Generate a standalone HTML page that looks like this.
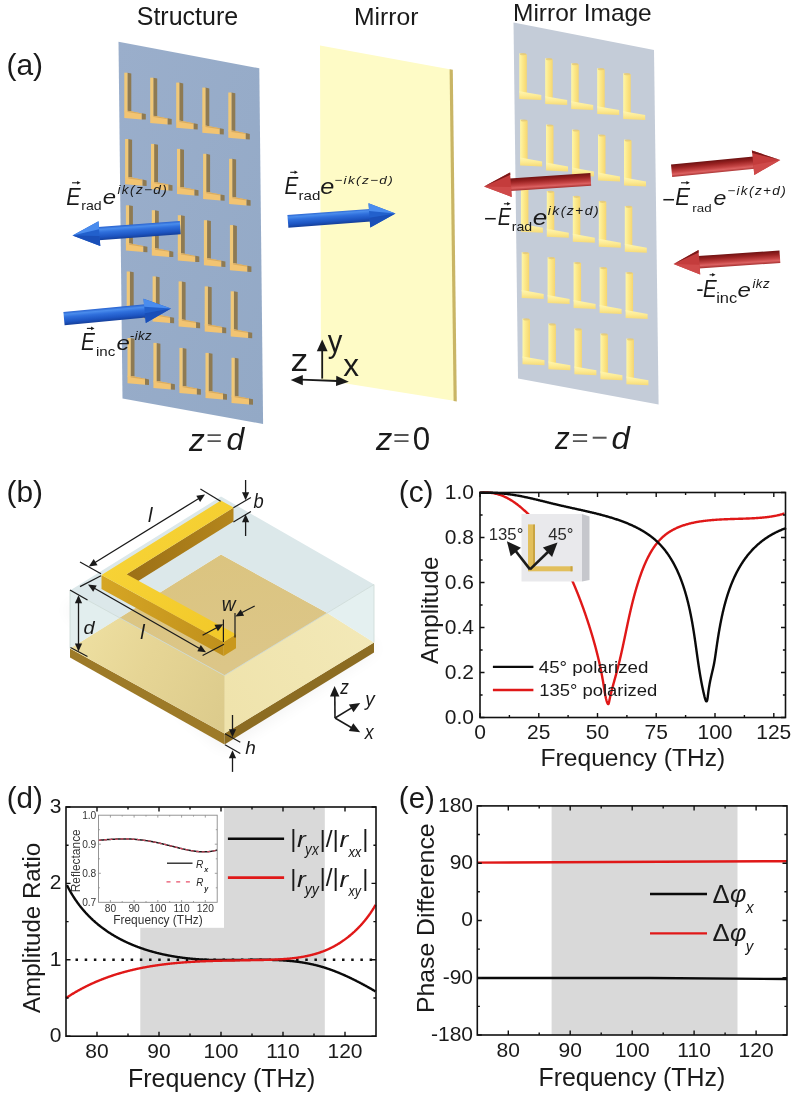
<!DOCTYPE html>
<html><head><meta charset="utf-8"><style>
html,body{margin:0;padding:0;background:#fff;overflow:hidden;}
svg{display:block;}
.t{font-family:'Liberation Sans', sans-serif;fill:#1a1a1a;}
.i{font-family:'Liberation Sans', sans-serif;font-style:italic;fill:#1a1a1a;}
</style></head><body>
<svg width="800" height="1096" viewBox="0 0 800 1096">
<rect width="800" height="1096" fill="#ffffff"/>
<defs>
<linearGradient id="gBlue" x1="0" y1="0" x2="1" y2="1">
<stop offset="0" stop-color="#9aaecb"/><stop offset="1" stop-color="#93a9c6"/></linearGradient>
<linearGradient id="gMirL" x1="0" y1="0" x2="1" y2="0">
<stop offset="0" stop-color="#fef6a8"/><stop offset="0.45" stop-color="#fce889"/><stop offset="1" stop-color="#f6d670"/></linearGradient>
<linearGradient id="gMirF" x1="0" y1="0" x2="0" y2="1">
<stop offset="0" stop-color="#fff6b0"/><stop offset="0.5" stop-color="#fdeb94"/><stop offset="1" stop-color="#f6da78"/></linearGradient>
<linearGradient id="gBlueArrow" x1="0" y1="0" x2="0" y2="1">
<stop offset="0" stop-color="#4f8fe8"/><stop offset="0.35" stop-color="#2266d0"/><stop offset="1" stop-color="#1445a8"/></linearGradient>
<linearGradient id="gRedArrow" x1="0" y1="0" x2="0" y2="1">
<stop offset="0" stop-color="#d86060"/><stop offset="0.35" stop-color="#c03838"/><stop offset="1" stop-color="#8a1c1c"/></linearGradient>
<linearGradient id="gBlueArrowH" x1="0" y1="0" x2="0" y2="1">
<stop offset="0" stop-color="#3c7fe0"/><stop offset="0.5" stop-color="#2262cc"/><stop offset="1" stop-color="#1848a8"/></linearGradient>
<linearGradient id="gRedArrowH" x1="0" y1="0" x2="0" y2="1">
<stop offset="0" stop-color="#d85050"/><stop offset="0.5" stop-color="#c23a3a"/><stop offset="1" stop-color="#962222"/></linearGradient>
<linearGradient id="gPlateFront" x1="0" y1="0" x2="0.4" y2="1">
<stop offset="0" stop-color="#ecdd9c"/><stop offset="0.6" stop-color="#f1e4ac"/><stop offset="1" stop-color="#f4e9b8"/></linearGradient>
<linearGradient id="gPlateTop" x1="0" y1="0" x2="0.3" y2="1">
<stop offset="0" stop-color="#dbc47f"/><stop offset="1" stop-color="#dcc688"/></linearGradient>
<linearGradient id="gPlateFL" gradientUnits="userSpaceOnUse" x1="70" y1="640" x2="224" y2="720">
<stop offset="0" stop-color="#eee0a2"/><stop offset="0.45" stop-color="#e6d595"/><stop offset="1" stop-color="#dccb8c"/></linearGradient>
<linearGradient id="gPlateFR" gradientUnits="userSpaceOnUse" x1="224" y1="700" x2="374" y2="620">
<stop offset="0" stop-color="#efe3ac"/><stop offset="1" stop-color="#f3e9b8"/></linearGradient>
<linearGradient id="gBarTop" x1="0" y1="0" x2="1" y2="1">
<stop offset="0" stop-color="#f8d63a"/><stop offset="1" stop-color="#f2c828"/></linearGradient>
<linearGradient id="gBarFront" x1="0" y1="0" x2="1" y2="0">
<stop offset="0" stop-color="#d6a624"/><stop offset="1" stop-color="#c0901c"/></linearGradient>
<linearGradient id="gBarInner" x1="0" y1="0" x2="1" y2="0">
<stop offset="0" stop-color="#9c7016"/><stop offset="1" stop-color="#b4861c"/></linearGradient>
<filter id="fBlur" x="-20%" y="-20%" width="140%" height="140%"><feGaussianBlur stdDeviation="8"/></filter>
<linearGradient id="ag0" gradientUnits="userSpaceOnUse" x1="179.8" y1="221.0" x2="180.8" y2="234.2"><stop offset="0" stop-color="#2a64d0"/><stop offset="0.18" stop-color="#4a8cec"/><stop offset="0.4" stop-color="#2f6fdc"/><stop offset="0.75" stop-color="#1d55c2"/><stop offset="1" stop-color="#153f9a"/></linearGradient><linearGradient id="ag1" gradientUnits="userSpaceOnUse" x1="63.4" y1="312.0" x2="64.6" y2="325.2"><stop offset="0" stop-color="#2a64d0"/><stop offset="0.18" stop-color="#4a8cec"/><stop offset="0.4" stop-color="#2f6fdc"/><stop offset="0.75" stop-color="#1d55c2"/><stop offset="1" stop-color="#153f9a"/></linearGradient><linearGradient id="ag2" gradientUnits="userSpaceOnUse" x1="287.4" y1="214.9" x2="288.4" y2="227.7"><stop offset="0" stop-color="#2a64d0"/><stop offset="0.18" stop-color="#4a8cec"/><stop offset="0.4" stop-color="#2f6fdc"/><stop offset="0.75" stop-color="#1d55c2"/><stop offset="1" stop-color="#153f9a"/></linearGradient><linearGradient id="ag3" gradientUnits="userSpaceOnUse" x1="590.4" y1="173.1" x2="591.2" y2="185.7"><stop offset="0" stop-color="#6e1212"/><stop offset="0.3" stop-color="#9a2222"/><stop offset="0.62" stop-color="#c44444"/><stop offset="0.8" stop-color="#dc6262"/><stop offset="1" stop-color="#a83232"/></linearGradient><linearGradient id="ag4" gradientUnits="userSpaceOnUse" x1="671.0" y1="164.6" x2="672.2" y2="177.0"><stop offset="0" stop-color="#6e1212"/><stop offset="0.3" stop-color="#9a2222"/><stop offset="0.62" stop-color="#c44444"/><stop offset="0.8" stop-color="#dc6262"/><stop offset="1" stop-color="#a83232"/></linearGradient><linearGradient id="ag5" gradientUnits="userSpaceOnUse" x1="779.5" y1="250.5" x2="780.3" y2="262.9"><stop offset="0" stop-color="#6e1212"/><stop offset="0.3" stop-color="#9a2222"/><stop offset="0.62" stop-color="#c44444"/><stop offset="0.8" stop-color="#dc6262"/><stop offset="1" stop-color="#a83232"/></linearGradient></defs><text transform="translate(136.76 25.04) scale(0.944 1)" font-size="26.48" class="t">Structure</text>
<text transform="translate(354.02 24.56) scale(1.039 1)" font-size="23.78" class="t">Mirror</text>
<text x="513.04" y="20.86" font-size="24.47" class="t">Mirror Image</text>
<text x="6.48" y="74.61" font-size="29.95" class="t">(a)</text>
<polygon points="118.5,41.7 259.3,68.3 263.1,424.0 122.5,398.6" fill="url(#gBlue)" />
<polygon points="127.3,72.7 131.3,73.5 131.3,111.7 127.3,110.7" fill="#8e7a52" /><polygon points="124.3,72.7 127.5,72.7 127.5,111.7 124.3,111.7" fill="#f0c878" /><polygon points="124.3,110.4 131.3,111.3 141.8,113.4 141.8,119.4 124.3,117.9" fill="#f2c472" /><polygon points="127.5,110.7 131.3,111.3 141.8,113.4 141.8,114.3 127.5,112.1" fill="#d8ac62" /><polygon points="141.8,113.3 145.8,114.1 145.8,119.6 141.8,119.4" fill="#8e7a52" />
<polygon points="153.2,77.7 157.2,78.5 157.2,116.7 153.2,115.7" fill="#8e7a52" /><polygon points="150.2,77.7 153.4,77.7 153.4,116.7 150.2,116.7" fill="#f0c878" /><polygon points="150.2,115.4 157.2,116.2 167.7,118.4 167.7,124.4 150.2,122.9" fill="#f2c472" /><polygon points="153.4,115.7 157.2,116.2 167.7,118.4 167.7,119.2 153.4,117.1" fill="#d8ac62" /><polygon points="167.7,118.2 171.7,119.1 171.7,124.6 167.7,124.4" fill="#8e7a52" />
<polygon points="179.2,82.6 183.2,83.4 183.2,121.6 179.2,120.6" fill="#8e7a52" /><polygon points="176.2,82.6 179.4,82.6 179.4,121.6 176.2,121.6" fill="#f0c878" /><polygon points="176.2,120.3 183.2,121.2 193.7,123.3 193.7,129.3 176.2,127.8" fill="#f2c472" /><polygon points="179.4,120.6 183.2,121.2 193.7,123.3 193.7,124.2 179.4,122.0" fill="#d8ac62" /><polygon points="193.7,123.2 197.7,124.0 197.7,129.5 193.7,129.3" fill="#8e7a52" />
<polygon points="205.3,87.6 209.3,88.4 209.3,126.6 205.3,125.6" fill="#8e7a52" /><polygon points="202.3,87.6 205.5,87.6 205.5,126.6 202.3,126.6" fill="#f0c878" /><polygon points="202.3,125.3 209.3,126.2 219.8,128.2 219.8,134.2 202.3,132.8" fill="#f2c472" /><polygon points="205.5,125.6 209.3,126.2 219.8,128.2 219.8,129.2 205.5,127.0" fill="#d8ac62" /><polygon points="219.8,128.2 223.8,129.0 223.8,134.5 219.8,134.2" fill="#8e7a52" />
<polygon points="231.3,92.5 235.3,93.3 235.3,131.5 231.3,130.5" fill="#8e7a52" /><polygon points="228.3,92.5 231.5,92.5 231.5,131.5 228.3,131.5" fill="#f0c878" /><polygon points="228.3,130.2 235.3,131.1 245.8,133.2 245.8,139.2 228.3,137.7" fill="#f2c472" /><polygon points="231.5,130.5 235.3,131.1 245.8,133.2 245.8,134.1 231.5,131.9" fill="#d8ac62" /><polygon points="245.8,133.1 249.8,133.9 249.8,139.4 245.8,139.2" fill="#8e7a52" />
<polygon points="128.1,139.0 132.1,139.8 132.1,178.0 128.1,177.0" fill="#8e7a52" /><polygon points="125.1,139.0 128.3,139.0 128.3,178.0 125.1,178.0" fill="#f0c878" /><polygon points="125.1,176.7 132.1,177.6 142.6,179.7 142.6,185.7 125.1,184.2" fill="#f2c472" /><polygon points="128.3,177.0 132.1,177.6 142.6,179.7 142.6,180.6 128.3,178.4" fill="#d8ac62" /><polygon points="142.6,179.6 146.6,180.4 146.6,185.9 142.6,185.7" fill="#8e7a52" />
<polygon points="154.0,143.9 158.0,144.8 158.0,182.9 154.0,181.9" fill="#8e7a52" /><polygon points="151.0,143.9 154.2,143.9 154.2,182.9 151.0,182.9" fill="#f0c878" /><polygon points="151.0,181.6 158.0,182.5 168.5,184.6 168.5,190.6 151.0,189.1" fill="#f2c472" /><polygon points="154.2,181.9 158.0,182.5 168.5,184.6 168.5,185.5 154.2,183.3" fill="#d8ac62" /><polygon points="168.5,184.5 172.5,185.3 172.5,190.8 168.5,190.6" fill="#8e7a52" />
<polygon points="180.0,148.9 184.0,149.7 184.0,187.9 180.0,186.9" fill="#8e7a52" /><polygon points="177.0,148.9 180.2,148.9 180.2,187.9 177.0,187.9" fill="#f0c878" /><polygon points="177.0,186.6 184.0,187.5 194.5,189.6 194.5,195.6 177.0,194.1" fill="#f2c472" /><polygon points="180.2,186.9 184.0,187.5 194.5,189.6 194.5,190.5 180.2,188.3" fill="#d8ac62" /><polygon points="194.5,189.5 198.5,190.3 198.5,195.8 194.5,195.6" fill="#8e7a52" />
<polygon points="206.1,153.8 210.1,154.7 210.1,192.8 206.1,191.8" fill="#8e7a52" /><polygon points="203.1,153.8 206.3,153.8 206.3,192.8 203.1,192.8" fill="#f0c878" /><polygon points="203.1,191.5 210.1,192.4 220.6,194.5 220.6,200.5 203.1,199.0" fill="#f2c472" /><polygon points="206.3,191.8 210.1,192.4 220.6,194.5 220.6,195.4 206.3,193.2" fill="#d8ac62" /><polygon points="220.6,194.4 224.6,195.2 224.6,200.8 220.6,200.5" fill="#8e7a52" />
<polygon points="232.1,158.8 236.1,159.6 236.1,197.8 232.1,196.8" fill="#8e7a52" /><polygon points="229.1,158.8 232.3,158.8 232.3,197.8 229.1,197.8" fill="#f0c878" /><polygon points="229.1,196.5 236.1,197.4 246.6,199.5 246.6,205.5 229.1,204.0" fill="#f2c472" /><polygon points="232.3,196.8 236.1,197.4 246.6,199.5 246.6,200.4 232.3,198.2" fill="#d8ac62" /><polygon points="246.6,199.4 250.6,200.2 250.6,205.7 246.6,205.5" fill="#8e7a52" />
<polygon points="128.9,205.3 132.9,206.1 132.9,244.3 128.9,243.3" fill="#8e7a52" /><polygon points="125.9,205.3 129.1,205.3 129.1,244.3 125.9,244.3" fill="#f0c878" /><polygon points="125.9,243.0 132.9,243.9 143.4,246.0 143.4,252.0 125.9,250.5" fill="#f2c472" /><polygon points="129.1,243.3 132.9,243.9 143.4,246.0 143.4,246.9 129.1,244.7" fill="#d8ac62" /><polygon points="143.4,245.9 147.4,246.7 147.4,252.2 143.4,252.0" fill="#8e7a52" />
<polygon points="154.8,210.2 158.8,211.1 158.8,249.2 154.8,248.2" fill="#8e7a52" /><polygon points="151.8,210.2 155.0,210.2 155.0,249.2 151.8,249.2" fill="#f0c878" /><polygon points="151.8,247.9 158.8,248.8 169.3,250.9 169.3,256.9 151.8,255.4" fill="#f2c472" /><polygon points="155.0,248.2 158.8,248.8 169.3,250.9 169.3,251.8 155.0,249.7" fill="#d8ac62" /><polygon points="169.3,250.8 173.3,251.7 173.3,257.1 169.3,256.9" fill="#8e7a52" />
<polygon points="180.8,215.2 184.8,216.0 184.8,254.2 180.8,253.2" fill="#8e7a52" /><polygon points="177.8,215.2 181.0,215.2 181.0,254.2 177.8,254.2" fill="#f0c878" /><polygon points="177.8,252.9 184.8,253.8 195.3,255.9 195.3,261.9 177.8,260.4" fill="#f2c472" /><polygon points="181.0,253.2 184.8,253.8 195.3,255.9 195.3,256.8 181.0,254.6" fill="#d8ac62" /><polygon points="195.3,255.8 199.3,256.6 199.3,262.1 195.3,261.9" fill="#8e7a52" />
<polygon points="206.9,220.2 210.9,221.0 210.9,259.1 206.9,258.1" fill="#8e7a52" /><polygon points="203.9,220.2 207.1,220.2 207.1,259.1 203.9,259.1" fill="#f0c878" /><polygon points="203.9,257.8 210.9,258.8 221.4,260.8 221.4,266.8 203.9,265.3" fill="#f2c472" /><polygon points="207.1,258.1 210.9,258.8 221.4,260.8 221.4,261.8 207.1,259.5" fill="#d8ac62" /><polygon points="221.4,260.8 225.4,261.5 225.4,267.0 221.4,266.8" fill="#8e7a52" />
<polygon points="232.9,225.1 236.9,225.9 236.9,264.1 232.9,263.1" fill="#8e7a52" /><polygon points="229.9,225.1 233.1,225.1 233.1,264.1 229.9,264.1" fill="#f0c878" /><polygon points="229.9,262.8 236.9,263.7 247.4,265.8 247.4,271.8 229.9,270.3" fill="#f2c472" /><polygon points="233.1,263.1 236.9,263.7 247.4,265.8 247.4,266.7 233.1,264.5" fill="#d8ac62" /><polygon points="247.4,265.7 251.4,266.5 251.4,272.0 247.4,271.8" fill="#8e7a52" />
<polygon points="129.7,271.5 133.7,272.3 133.7,310.5 129.7,309.5" fill="#8e7a52" /><polygon points="126.7,271.5 129.9,271.5 129.9,310.5 126.7,310.5" fill="#f0c878" /><polygon points="126.7,309.2 133.7,310.1 144.2,312.2 144.2,318.2 126.7,316.7" fill="#f2c472" /><polygon points="129.9,309.5 133.7,310.1 144.2,312.2 144.2,313.1 129.9,310.9" fill="#d8ac62" /><polygon points="144.2,312.1 148.2,312.9 148.2,318.4 144.2,318.2" fill="#8e7a52" />
<polygon points="155.6,276.4 159.6,277.2 159.6,315.4 155.6,314.4" fill="#8e7a52" /><polygon points="152.6,276.4 155.8,276.4 155.8,315.4 152.6,315.4" fill="#f0c878" /><polygon points="152.6,314.1 159.6,315.1 170.1,317.1 170.1,323.1 152.6,321.6" fill="#f2c472" /><polygon points="155.8,314.4 159.6,315.1 170.1,317.1 170.1,318.1 155.8,315.8" fill="#d8ac62" /><polygon points="170.1,317.1 174.1,317.8 174.1,323.3 170.1,323.1" fill="#8e7a52" />
<polygon points="181.6,281.4 185.6,282.2 185.6,320.4 181.6,319.4" fill="#8e7a52" /><polygon points="178.6,281.4 181.8,281.4 181.8,320.4 178.6,320.4" fill="#f0c878" /><polygon points="178.6,319.1 185.6,320.0 196.1,322.1 196.1,328.1 178.6,326.6" fill="#f2c472" /><polygon points="181.8,319.4 185.6,320.0 196.1,322.1 196.1,323.0 181.8,320.8" fill="#d8ac62" /><polygon points="196.1,322.0 200.1,322.8 200.1,328.3 196.1,328.1" fill="#8e7a52" />
<polygon points="207.7,286.4 211.7,287.2 211.7,325.4 207.7,324.4" fill="#8e7a52" /><polygon points="204.7,286.4 207.9,286.4 207.9,325.4 204.7,325.4" fill="#f0c878" /><polygon points="204.7,324.1 211.7,325.0 222.2,327.1 222.2,333.1 204.7,331.6" fill="#f2c472" /><polygon points="207.9,324.4 211.7,325.0 222.2,327.1 222.2,328.0 207.9,325.8" fill="#d8ac62" /><polygon points="222.2,327.0 226.2,327.8 226.2,333.2 222.2,333.1" fill="#8e7a52" />
<polygon points="233.7,291.3 237.7,292.1 237.7,330.3 233.7,329.3" fill="#8e7a52" /><polygon points="230.7,291.3 233.9,291.3 233.9,330.3 230.7,330.3" fill="#f0c878" /><polygon points="230.7,329.0 237.7,329.9 248.2,332.0 248.2,338.0 230.7,336.5" fill="#f2c472" /><polygon points="233.9,329.3 237.7,329.9 248.2,332.0 248.2,332.9 233.9,330.7" fill="#d8ac62" /><polygon points="248.2,331.9 252.2,332.7 252.2,338.2 248.2,338.0" fill="#8e7a52" />
<polygon points="130.5,338.0 134.5,338.8 134.5,377.0 130.5,376.0" fill="#8e7a52" /><polygon points="127.5,338.0 130.7,338.0 130.7,377.0 127.5,377.0" fill="#f0c878" /><polygon points="127.5,375.7 134.5,376.6 145.0,378.7 145.0,384.7 127.5,383.2" fill="#f2c472" /><polygon points="130.7,376.0 134.5,376.6 145.0,378.7 145.0,379.6 130.7,377.4" fill="#d8ac62" /><polygon points="145.0,378.6 149.0,379.4 149.0,384.9 145.0,384.7" fill="#8e7a52" />
<polygon points="156.4,342.9 160.4,343.8 160.4,381.9 156.4,380.9" fill="#8e7a52" /><polygon points="153.4,342.9 156.6,342.9 156.6,381.9 153.4,381.9" fill="#f0c878" /><polygon points="153.4,380.6 160.4,381.6 170.9,383.6 170.9,389.6 153.4,388.1" fill="#f2c472" /><polygon points="156.6,380.9 160.4,381.6 170.9,383.6 170.9,384.6 156.6,382.3" fill="#d8ac62" /><polygon points="170.9,383.6 174.9,384.3 174.9,389.8 170.9,389.6" fill="#8e7a52" />
<polygon points="182.4,347.9 186.4,348.7 186.4,386.9 182.4,385.9" fill="#8e7a52" /><polygon points="179.4,347.9 182.6,347.9 182.6,386.9 179.4,386.9" fill="#f0c878" /><polygon points="179.4,385.6 186.4,386.5 196.9,388.6 196.9,394.6 179.4,393.1" fill="#f2c472" /><polygon points="182.6,385.9 186.4,386.5 196.9,388.6 196.9,389.5 182.6,387.3" fill="#d8ac62" /><polygon points="196.9,388.5 200.9,389.3 200.9,394.8 196.9,394.6" fill="#8e7a52" />
<polygon points="208.5,352.9 212.5,353.7 212.5,391.9 208.5,390.9" fill="#8e7a52" /><polygon points="205.5,352.9 208.7,352.9 208.7,391.9 205.5,391.9" fill="#f0c878" /><polygon points="205.5,390.6 212.5,391.5 223.0,393.6 223.0,399.6 205.5,398.1" fill="#f2c472" /><polygon points="208.7,390.9 212.5,391.5 223.0,393.6 223.0,394.5 208.7,392.2" fill="#d8ac62" /><polygon points="223.0,393.5 227.0,394.2 227.0,399.8 223.0,399.6" fill="#8e7a52" />
<polygon points="234.5,357.8 238.5,358.6 238.5,396.8 234.5,395.8" fill="#8e7a52" /><polygon points="231.5,357.8 234.7,357.8 234.7,396.8 231.5,396.8" fill="#f0c878" /><polygon points="231.5,395.5 238.5,396.4 249.0,398.5 249.0,404.5 231.5,403.0" fill="#f2c472" /><polygon points="234.7,395.8 238.5,396.4 249.0,398.5 249.0,399.4 234.7,397.2" fill="#d8ac62" /><polygon points="249.0,398.4 253.0,399.2 253.0,404.7 249.0,404.5" fill="#8e7a52" />
<polygon points="320.0,45.5 451.0,69.5 455.5,401.0 321.0,379.5" fill="#fefbc6" />
<polygon points="449.6,69.2 452.8,69.8 456.8,401.4 453.6,401.0" fill="#c9b565" />
<polygon points="513.5,22.5 654.0,50.0 658.6,404.5 518.0,378.6" fill="#c4ccd8" />
<polygon points="519.3,53.3 526.8,54.2 526.8,93.0 519.3,92.5" fill="url(#gMirL)" /><polygon points="519.3,91.2 541.3,95.1 541.3,100.1 519.3,99.1" fill="url(#gMirF)" /><ellipse cx="523.2" cy="54.2" rx="3.2" ry="1.1" fill="#e3c878" opacity="0.8"/>
<polygon points="545.2,58.3 552.7,59.2 552.7,98.0 545.2,97.5" fill="url(#gMirL)" /><polygon points="545.2,96.2 567.2,100.1 567.2,105.1 545.2,104.1" fill="url(#gMirF)" /><ellipse cx="549.1" cy="59.2" rx="3.2" ry="1.1" fill="#e3c878" opacity="0.8"/>
<polygon points="571.2,63.3 578.7,64.2 578.7,103.0 571.2,102.5" fill="url(#gMirL)" /><polygon points="571.2,101.2 593.2,105.1 593.2,110.1 571.2,109.1" fill="url(#gMirF)" /><ellipse cx="575.1" cy="64.2" rx="3.2" ry="1.1" fill="#e3c878" opacity="0.8"/>
<polygon points="597.2,68.3 604.7,69.2 604.7,108.0 597.2,107.5" fill="url(#gMirL)" /><polygon points="597.2,106.2 619.2,110.1 619.2,115.1 597.2,114.1" fill="url(#gMirF)" /><ellipse cx="601.1" cy="69.2" rx="3.2" ry="1.1" fill="#e3c878" opacity="0.8"/>
<polygon points="623.2,73.3 630.7,74.2 630.7,113.0 623.2,112.5" fill="url(#gMirL)" /><polygon points="623.2,111.2 645.2,115.1 645.2,120.1 623.2,119.1" fill="url(#gMirF)" /><ellipse cx="627.1" cy="74.2" rx="3.2" ry="1.1" fill="#e3c878" opacity="0.8"/>
<polygon points="520.1,119.6 527.6,120.5 527.6,159.3 520.1,158.8" fill="url(#gMirL)" /><polygon points="520.1,157.5 542.1,161.4 542.1,166.4 520.1,165.4" fill="url(#gMirF)" /><ellipse cx="524.0" cy="120.5" rx="3.2" ry="1.1" fill="#e3c878" opacity="0.8"/>
<polygon points="546.0,124.6 553.5,125.5 553.5,164.3 546.0,163.8" fill="url(#gMirL)" /><polygon points="546.0,162.5 568.0,166.4 568.0,171.4 546.0,170.4" fill="url(#gMirF)" /><ellipse cx="549.9" cy="125.5" rx="3.2" ry="1.1" fill="#e3c878" opacity="0.8"/>
<polygon points="572.0,129.6 579.5,130.5 579.5,169.3 572.0,168.8" fill="url(#gMirL)" /><polygon points="572.0,167.5 594.0,171.4 594.0,176.4 572.0,175.4" fill="url(#gMirF)" /><ellipse cx="575.9" cy="130.5" rx="3.2" ry="1.1" fill="#e3c878" opacity="0.8"/>
<polygon points="598.0,134.6 605.5,135.5 605.5,174.3 598.0,173.8" fill="url(#gMirL)" /><polygon points="598.0,172.5 620.0,176.4 620.0,181.4 598.0,180.4" fill="url(#gMirF)" /><ellipse cx="601.9" cy="135.5" rx="3.2" ry="1.1" fill="#e3c878" opacity="0.8"/>
<polygon points="624.0,139.6 631.5,140.5 631.5,179.3 624.0,178.8" fill="url(#gMirL)" /><polygon points="624.0,177.5 646.0,181.4 646.0,186.4 624.0,185.4" fill="url(#gMirF)" /><ellipse cx="627.9" cy="140.5" rx="3.2" ry="1.1" fill="#e3c878" opacity="0.8"/>
<polygon points="520.9,185.9 528.4,186.8 528.4,225.6 520.9,225.1" fill="url(#gMirL)" /><polygon points="520.9,223.8 542.9,227.7 542.9,232.7 520.9,231.7" fill="url(#gMirF)" /><ellipse cx="524.8" cy="186.8" rx="3.2" ry="1.1" fill="#e3c878" opacity="0.8"/>
<polygon points="546.8,190.9 554.3,191.8 554.3,230.6 546.8,230.1" fill="url(#gMirL)" /><polygon points="546.8,228.8 568.8,232.7 568.8,237.7 546.8,236.7" fill="url(#gMirF)" /><ellipse cx="550.7" cy="191.8" rx="3.2" ry="1.1" fill="#e3c878" opacity="0.8"/>
<polygon points="572.8,195.9 580.3,196.8 580.3,235.6 572.8,235.1" fill="url(#gMirL)" /><polygon points="572.8,233.8 594.8,237.7 594.8,242.7 572.8,241.7" fill="url(#gMirF)" /><ellipse cx="576.7" cy="196.8" rx="3.2" ry="1.1" fill="#e3c878" opacity="0.8"/>
<polygon points="598.8,200.9 606.3,201.8 606.3,240.6 598.8,240.1" fill="url(#gMirL)" /><polygon points="598.8,238.8 620.8,242.7 620.8,247.7 598.8,246.7" fill="url(#gMirF)" /><ellipse cx="602.7" cy="201.8" rx="3.2" ry="1.1" fill="#e3c878" opacity="0.8"/>
<polygon points="624.8,205.9 632.3,206.8 632.3,245.6 624.8,245.1" fill="url(#gMirL)" /><polygon points="624.8,243.8 646.8,247.7 646.8,252.7 624.8,251.7" fill="url(#gMirF)" /><ellipse cx="628.7" cy="206.8" rx="3.2" ry="1.1" fill="#e3c878" opacity="0.8"/>
<polygon points="521.7,252.2 529.2,253.1 529.2,291.9 521.7,291.4" fill="url(#gMirL)" /><polygon points="521.7,290.1 543.7,294.0 543.7,299.0 521.7,298.0" fill="url(#gMirF)" /><ellipse cx="525.6" cy="253.1" rx="3.2" ry="1.1" fill="#e3c878" opacity="0.8"/>
<polygon points="547.6,257.2 555.1,258.1 555.1,296.9 547.6,296.4" fill="url(#gMirL)" /><polygon points="547.6,295.1 569.6,299.0 569.6,304.0 547.6,303.0" fill="url(#gMirF)" /><ellipse cx="551.5" cy="258.1" rx="3.2" ry="1.1" fill="#e3c878" opacity="0.8"/>
<polygon points="573.6,262.2 581.1,263.1 581.1,301.9 573.6,301.4" fill="url(#gMirL)" /><polygon points="573.6,300.1 595.6,304.0 595.6,309.0 573.6,308.0" fill="url(#gMirF)" /><ellipse cx="577.5" cy="263.1" rx="3.2" ry="1.1" fill="#e3c878" opacity="0.8"/>
<polygon points="599.6,267.2 607.1,268.1 607.1,306.9 599.6,306.4" fill="url(#gMirL)" /><polygon points="599.6,305.1 621.6,309.0 621.6,314.0 599.6,313.0" fill="url(#gMirF)" /><ellipse cx="603.5" cy="268.1" rx="3.2" ry="1.1" fill="#e3c878" opacity="0.8"/>
<polygon points="625.6,272.2 633.1,273.1 633.1,311.9 625.6,311.4" fill="url(#gMirL)" /><polygon points="625.6,310.1 647.6,314.0 647.6,319.0 625.6,318.0" fill="url(#gMirF)" /><ellipse cx="629.5" cy="273.1" rx="3.2" ry="1.1" fill="#e3c878" opacity="0.8"/>
<polygon points="522.5,318.5 530.0,319.4 530.0,358.2 522.5,357.7" fill="url(#gMirL)" /><polygon points="522.5,356.4 544.5,360.3 544.5,365.3 522.5,364.3" fill="url(#gMirF)" /><ellipse cx="526.4" cy="319.4" rx="3.2" ry="1.1" fill="#e3c878" opacity="0.8"/>
<polygon points="548.4,323.5 555.9,324.4 555.9,363.2 548.4,362.7" fill="url(#gMirL)" /><polygon points="548.4,361.4 570.4,365.3 570.4,370.3 548.4,369.3" fill="url(#gMirF)" /><ellipse cx="552.3" cy="324.4" rx="3.2" ry="1.1" fill="#e3c878" opacity="0.8"/>
<polygon points="574.4,328.5 581.9,329.4 581.9,368.2 574.4,367.7" fill="url(#gMirL)" /><polygon points="574.4,366.4 596.4,370.3 596.4,375.3 574.4,374.3" fill="url(#gMirF)" /><ellipse cx="578.3" cy="329.4" rx="3.2" ry="1.1" fill="#e3c878" opacity="0.8"/>
<polygon points="600.4,333.5 607.9,334.4 607.9,373.2 600.4,372.7" fill="url(#gMirL)" /><polygon points="600.4,371.4 622.4,375.3 622.4,380.3 600.4,379.3" fill="url(#gMirF)" /><ellipse cx="604.3" cy="334.4" rx="3.2" ry="1.1" fill="#e3c878" opacity="0.8"/>
<polygon points="626.4,338.5 633.9,339.4 633.9,378.2 626.4,377.7" fill="url(#gMirL)" /><polygon points="626.4,376.4 648.4,380.3 648.4,385.3 626.4,384.3" fill="url(#gMirF)" /><ellipse cx="630.3" cy="339.4" rx="3.2" ry="1.1" fill="#e3c878" opacity="0.8"/><polygon points="179.8,221.0 97.9,227.1 98.9,240.3 180.8,234.2" fill="url(#ag0)" /><polygon points="98.5,221.3 72.5,235.6 100.3,245.9" fill="#2260cc" /><polygon points="99.6,236.1 72.5,235.6 100.3,245.9" fill="#1a4fb8" /><polygon points="98.5,221.3 72.5,235.6 99.1,229.3" fill="#4a8cee" />
<polygon points="63.4,312.0 145.0,304.2 146.2,317.4 64.6,325.2" fill="url(#ag1)" /><polygon points="143.5,298.8 171.0,308.4 145.8,323.1" fill="#2260cc" /><polygon points="144.9,313.3 171.0,308.4 145.8,323.1" fill="#1a4fb8" /><polygon points="143.5,298.8 171.0,308.4 144.2,306.7" fill="#4a8cee" />
<polygon points="287.4,214.9 369.9,208.9 370.8,221.6 288.4,227.7" fill="url(#ag2)" /><polygon points="368.5,203.2 395.5,213.4 370.3,227.5" fill="#2260cc" /><polygon points="369.5,217.8 395.5,213.4 370.3,227.5" fill="#1a4fb8" /><polygon points="368.5,203.2 395.5,213.4 369.1,211.1" fill="#4a8cee" />
<polygon points="590.4,173.1 509.5,178.4 510.4,191.0 591.2,185.7" fill="url(#ag3)" /><polygon points="510.1,172.4 484.0,186.4 511.7,196.9" fill="#c43c3c" /><polygon points="511.1,187.1 484.0,186.4 511.7,196.9" fill="#cf4a4a" /><polygon points="510.1,172.4 484.0,186.4 510.3,174.8" fill="#7a1a1a" />
<polygon points="671.0,164.6 753.5,156.4 754.7,168.8 672.2,177.0" fill="url(#ag4)" /><polygon points="751.9,150.5 780.3,160.0 754.3,174.9" fill="#c43c3c" /><polygon points="753.4,165.1 780.3,160.0 754.3,174.9" fill="#cf4a4a" /><polygon points="751.9,150.5 780.3,160.0 752.2,152.9" fill="#7a1a1a" />
<polygon points="779.5,250.5 697.9,256.1 698.8,268.5 780.3,262.9" fill="url(#ag5)" /><polygon points="698.5,250.0 673.6,264.0 700.2,274.5" fill="#c43c3c" /><polygon points="699.5,264.7 673.6,264.0 700.2,274.5" fill="#cf4a4a" /><polygon points="698.5,250.0 673.6,264.0 698.7,252.4" fill="#7a1a1a" />
<text transform="translate(66.36 204.60) scale(0.895 1)" font-size="24.06" class="i">E</text>
<text transform="translate(81.22 209.88) scale(1.160 1)" font-size="12.16" class="t">rad</text>
<text transform="translate(102.87 203.54) scale(1.160 1)" font-size="20.64" class="i">e</text>
<text transform="translate(117.47 194.05) scale(1.121 1)" font-size="12.13" class="i" letter-spacing="1.21">ik(z−d)</text>
<path d="M72.0 182.8 H78.0" stroke="#1a1a1a" stroke-width="1.1"/><path d="M80.5 182.8 l-3.4 -1.8 v3.6z" fill="#1a1a1a"/>
<text transform="translate(284.50 194.00) scale(0.860 1)" font-size="23.91" class="i">E</text>
<text transform="translate(298.54 200.17) scale(1.153 1)" font-size="13.11" class="t">rad</text>
<text transform="translate(320.24 193.78) scale(1.160 1)" font-size="21.82" class="i">e</text>
<text transform="translate(334.25 183.54) scale(1.160 1)" font-size="11.70" class="i" letter-spacing="1.17">−ik(z−d)</text>
<path d="M290.2 172.3 H295.4" stroke="#1a1a1a" stroke-width="1.1"/><path d="M297.9 172.3 l-3.4 -1.8 v3.6z" fill="#1a1a1a"/>
<text transform="translate(81.08 350.25) scale(0.860 1)" font-size="24.13" class="i">E</text>
<text transform="translate(95.90 356.27) scale(1.160 1)" font-size="13.04" class="t">inc</text>
<text transform="translate(116.42 350.04) scale(1.160 1)" font-size="20.64" class="i">e</text>
<text transform="translate(129.84 339.80) scale(1.103 1)" font-size="12.05" class="i" letter-spacing="0.36">-ikz</text>
<path d="M86.9 328.4 H92.0" stroke="#1a1a1a" stroke-width="1.1"/><path d="M94.5 328.4 l-3.4 -1.8 v3.6z" fill="#1a1a1a"/>
<text x="484.08" y="225.87" font-size="22.00" class="t">−</text>
<text transform="translate(497.87 225.00) scale(0.860 1)" font-size="23.19" class="i">E</text>
<text transform="translate(511.77 230.88) scale(1.160 1)" font-size="12.16" class="t">rad</text>
<text transform="translate(532.81 224.77) scale(1.160 1)" font-size="22.55" class="i">e</text>
<text transform="translate(547.71 214.85) scale(1.156 1)" font-size="12.13" class="i" letter-spacing="1.21">ik(z+d)</text>
<path d="M503.9 203.8 H508.0" stroke="#1a1a1a" stroke-width="1.1"/><path d="M510.5 203.8 l-3.4 -1.8 v3.6z" fill="#1a1a1a"/>
<text x="662.21" y="206.77" font-size="22.00" class="t">−</text>
<text transform="translate(675.34 205.00) scale(0.893 1)" font-size="24.64" class="i">E</text>
<text transform="translate(692.34 212.39) scale(1.160 1)" font-size="11.49" class="t">rad</text>
<text transform="translate(713.62 204.80) scale(1.160 1)" font-size="20.00" class="i">e</text>
<text transform="translate(727.19 194.93) scale(1.112 1)" font-size="12.23" class="i" letter-spacing="1.22">−ik(z+d)</text>
<path d="M681.0 182.8 H687.3" stroke="#1a1a1a" stroke-width="1.1"/><path d="M689.8 182.8 l-3.4 -1.8 v3.6z" fill="#1a1a1a"/>
<text x="696.17" y="296.44" font-size="22.00" class="t">-</text>
<text transform="translate(703.00 296.50) scale(0.860 1)" font-size="23.91" class="i">E</text>
<text transform="translate(716.14 303.36) scale(1.160 1)" font-size="14.19" class="t">inc</text>
<text transform="translate(737.39 297.19) scale(1.160 1)" font-size="20.73" class="i">e</text>
<text transform="translate(752.53 287.80) scale(1.102 1)" font-size="12.05" class="i" letter-spacing="0.36">ikz</text>
<path d="M709.6 274.8 H713.0" stroke="#1a1a1a" stroke-width="1.1"/><path d="M715.5 274.8 l-3.4 -1.8 v3.6z" fill="#1a1a1a"/>
<g stroke="#1a1a1a" stroke-width="1.8" fill="none"><path d="M322.2 378.6 V349"/><path d="M301 379.7 L337.5 381.0"/></g>
<g fill="#1a1a1a"><path d="M322.2 339.4 L316.8 351.2 L327.6 351.2z"/><path d="M290.7 380.1 L302.8 374.9 L302.8 385.2z"/><path d="M348.8 381.8 L336.3 375.8 L336 386z"/></g>
<text transform="translate(290.38 370.50) scale(1.158 1)" font-size="30.75" class="t">z</text>
<text transform="translate(327.80 351.54) scale(0.935 1)" font-size="31.22" class="t">y</text>
<text transform="translate(343.29 376.10) scale(1.026 1)" font-size="30.75" class="t">x</text>
<text transform="translate(189.00 450.50) scale(0.986 1)" font-size="32.08" class="i">z</text>
<text transform="translate(206.36 446.48) scale(1.160 1)" font-size="23.44" class="t" style="fill:#555">=</text>
<text x="226.54" y="450.18" font-size="31.76" class="i">d</text>
<text transform="translate(376.00 449.50) scale(1.049 1)" font-size="31.13" class="i">z</text>
<text transform="translate(393.09 446.25) scale(1.160 1)" font-size="25.00" class="t" style="fill:#555">=</text>
<text transform="translate(412.75 449.68) scale(0.965 1)" font-size="32.39" class="t">0</text>
<text transform="translate(555.00 449.40) scale(0.922 1)" font-size="31.89" class="i">z</text>
<text transform="translate(571.54 446.23) scale(1.145 1)" font-size="25.47" class="t" style="fill:#555">=</text>
<text x="591.57" y="447.12" font-size="28.57" class="t" style="fill:#555">−</text>
<text transform="translate(611.51 449.09) scale(1.052 1)" font-size="31.28" class="i">d</text><text x="6.52" y="502.32" font-size="29.89" class="t">(b)</text>
<polygon points="64.0,608.5 224.5,749.5 378.0,648.5 221.0,554.5" fill="#000" opacity="0.05" filter="url(#fBlur)"/>
<polygon points="70.0,648.5 224.5,733.5 224.5,744.5 70.0,657.5" fill="#9d7a28" />
<polygon points="224.5,733.5 374.0,642.5 374.0,652.5 224.5,744.5" fill="#8c6c22" />
<polygon points="70.0,648.5 119.5,617.7 224.5,675.5 224.5,733.5" fill="url(#gPlateFL)" />
<polygon points="224.5,675.5 327.3,613.0 374.0,642.5 224.5,733.5" fill="url(#gPlateFR)" />
<path d="M224.5 675.5 L224.5 733.5" stroke="#e6d8a0" stroke-width="1"/>
<polygon points="119.5,617.7 221.0,554.5 327.3,613.0 224.5,675.5" fill="url(#gPlateTop)" />
<polygon points="70.0,590.5 221.0,496.5 374.0,584.5 327.3,613.0 221.0,554.5 119.5,617.7" fill="#dce8ea" />
<polygon points="70.0,590.5 119.5,617.7 70.0,648.5" fill="#e2eeee" />
<polygon points="374.0,584.5 327.3,613.0 374.0,642.5" fill="#e4f0f0" />
<path d="M70.0 590.5 L224.5 675.5 L374.0 584.5 M70.0 590.5 L70.0 648.5 M374.0 584.5 L374.0 642.5" stroke="#cbd9d6" stroke-width="0.8" fill="none"/>
<polygon points="126.6,574.2 233.5,507.6 233.5,521.6 126.6,588.2" fill="url(#gBarInner)" />
<polygon points="101.5,574.9 223.6,642.0 223.6,656.0 101.5,588.9" fill="url(#gBarFront)" />
<polygon points="223.6,642.0 236.0,634.3 236.0,648.3 223.6,656.0" fill="#c9981c" />
<polygon points="101.5,574.9 220.8,500.6 233.5,507.6 126.6,574.2 236.0,634.3 223.6,642.0" fill="url(#gBarTop)" />
<path d="M80.0 562.0 L101.0 573.8" stroke="#1a1a1a" stroke-width="1.20" fill="none"/><path d="M200.4 489.0 L220.6 501.2" stroke="#1a1a1a" stroke-width="1.20" fill="none"/>
<path d="M93.4 563.5 L200.4 497.5" stroke="#1a1a1a" stroke-width="1.30" fill="none"/><polygon points="88.8,566.4 93.7,559.1 97.5,565.3" fill="#1a1a1a" /><polygon points="205.0,494.6 200.1,501.9 196.3,495.7" fill="#1a1a1a" />
<text x="147.88" y="521.95" font-size="20.14" class="i">l</text>
<path d="M80.0 586.6 L101.0 575.8" stroke="#1a1a1a" stroke-width="1.20" fill="none"/><path d="M202.6 655.5 L224.0 644.3" stroke="#1a1a1a" stroke-width="1.20" fill="none"/>
<path d="M92.7 587.3 L201.3 649.5" stroke="#1a1a1a" stroke-width="1.30" fill="none"/><polygon points="88.0,584.6 96.7,585.5 93.2,591.7" fill="#1a1a1a" /><polygon points="206.0,652.2 197.3,651.3 200.8,645.1" fill="#1a1a1a" />
<text x="140.13" y="639.20" font-size="20.14" class="i">l</text>
<path d="M70.0 590.0 L87.5 600.0" stroke="#1a1a1a" stroke-width="1.20" fill="none"/><path d="M70.5 647.5 L87.5 656.5" stroke="#1a1a1a" stroke-width="1.20" fill="none"/>
<path d="M78.5 597.5 L78.5 649.2" stroke="#1a1a1a" stroke-width="1.30" fill="none"/><polygon points="78.5,595.2 82.1,603.2 74.9,603.2" fill="#1a1a1a" /><polygon points="78.5,651.5 74.9,643.5 82.1,643.5" fill="#1a1a1a" />
<text transform="translate(83.40 633.81) scale(1.057 1)" font-size="18.92" class="i">d</text>
<path d="M223.4 619.4 L223.4 642.0" stroke="#1a1a1a" stroke-width="1.20" fill="none"/><path d="M235.0 613.1 L235.0 637.5" stroke="#1a1a1a" stroke-width="1.20" fill="none"/>
<path d="M202.6 635.3 L218.0 627.0" stroke="#1a1a1a" stroke-width="1.20" fill="none"/><polygon points="223.2,624.2 217.9,631.2 214.4,624.8" fill="#1a1a1a" />
<path d="M254.7 606.0 L240.0 613.5" stroke="#1a1a1a" stroke-width="1.20" fill="none"/><polygon points="235.4,616.5 240.7,609.5 244.1,615.8" fill="#1a1a1a" />
<text transform="translate(221.85 610.60) scale(0.986 1)" font-size="19.43" class="i">w</text>
<path d="M233.4 507.8 L250.9 497.5" stroke="#1a1a1a" stroke-width="1.20" fill="none"/><path d="M233.4 521.9 L250.9 511.6" stroke="#1a1a1a" stroke-width="1.20" fill="none"/>
<path d="M245.6 480.0 L245.6 493.0" stroke="#1a1a1a" stroke-width="1.30" fill="none"/><polygon points="245.6,500.2 242.0,492.2 249.2,492.2" fill="#1a1a1a" />
<path d="M245.6 536.0 L245.6 521.0" stroke="#1a1a1a" stroke-width="1.30" fill="none"/><polygon points="245.6,514.3 249.2,522.3 242.0,522.3" fill="#1a1a1a" />
<text transform="translate(253.39 508.10) scale(0.949 1)" font-size="19.32" class="i">b</text>
<path d="M225.0 733.8 L240.3 742.2" stroke="#1a1a1a" stroke-width="1.20" fill="none"/><path d="M225.0 744.7 L240.3 753.4" stroke="#1a1a1a" stroke-width="1.20" fill="none"/>
<path d="M232.5 715.0 L232.5 730.0" stroke="#1a1a1a" stroke-width="1.30" fill="none"/><polygon points="232.5,737.2 228.9,729.2 236.1,729.2" fill="#1a1a1a" />
<path d="M232.5 771.9 L232.5 757.0" stroke="#1a1a1a" stroke-width="1.30" fill="none"/><polygon points="232.5,750.3 236.1,758.3 228.9,758.3" fill="#1a1a1a" />
<text x="245.22" y="754.19" font-size="19.03" class="i">h</text>
<path d="M335.0 718.0 L334.8 694.0" stroke="#1a1a1a" stroke-width="1.60" fill="none"/><polygon points="334.6,686.0 339.4,696.4 330.0,696.6" fill="#1a1a1a" />
<path d="M335.0 718.0 L352.5 707.4" stroke="#1a1a1a" stroke-width="1.60" fill="none"/><polygon points="360.2,703.0 353.5,712.2 348.9,704.5" fill="#1a1a1a" />
<path d="M335.0 718.0 L352.5 728.2" stroke="#1a1a1a" stroke-width="1.60" fill="none"/><polygon points="360.2,732.3 348.8,731.0 353.3,723.2" fill="#1a1a1a" />
<text transform="translate(340.14 693.70) scale(0.860 1)" font-size="20.00" class="i">z</text>
<text transform="translate(365.24 706.44) scale(0.929 1)" font-size="20.27" class="i">y</text>
<text transform="translate(364.87 738.80) scale(0.860 1)" font-size="20.75" class="i">x</text><text x="398.73" y="502.12" font-size="29.89" class="t">(c)</text>
<path d="M479.72 492.86 L480.51 492.77 L481.30 492.69 L482.08 492.62 L482.86 492.57 L483.63 492.53 L484.39 492.51 L485.16 492.50 L485.91 492.50 L486.67 492.51 L487.41 492.54 L488.16 492.57 L488.90 492.63 L489.63 492.69 L490.36 492.76 L491.08 492.85 L491.80 492.95 L492.52 493.06 L493.23 493.18 L493.94 493.31 L494.64 493.45 L495.34 493.60 L496.03 493.77 L496.72 493.94 L497.41 494.13 L498.09 494.32 L498.77 494.53 L499.44 494.74 L500.11 494.97 L500.77 495.20 L501.43 495.44 L502.09 495.69 L502.74 495.96 L503.39 496.23 L504.04 496.51 L504.68 496.79 L505.31 497.09 L505.95 497.39 L506.58 497.70 L507.20 498.02 L507.83 498.35 L508.44 498.69 L509.06 499.03 L509.67 499.38 L510.28 499.74 L510.88 500.10 L511.48 500.47 L512.08 500.85 L512.67 501.23 L513.26 501.63 L513.85 502.02 L514.44 502.42 L515.02 502.83 L515.59 503.25 L516.17 503.67 L516.74 504.09 L517.31 504.52 L517.87 504.96 L518.43 505.40 L518.99 505.84 L519.55 506.29 L520.10 506.74 L520.65 507.20 L521.20 507.66 L521.74 508.13 L522.28 508.60 L522.82 509.07 L523.36 509.55 L523.89 510.03 L524.42 510.51 L524.95 510.99 L525.47 511.48 L525.99 511.97 L526.51 512.47 L527.03 512.96 L527.54 513.46 L528.06 513.96 L528.57 514.46 L529.07 514.97 L529.58 515.48 L530.08 515.98 L530.58 516.49 L531.08 517.01 L531.57 517.52 L532.07 518.04 L532.56 518.56 L533.05 519.08 L533.53 519.60 L534.01 520.12 L534.50 520.65 L534.97 521.18 L535.45 521.70 L535.92 522.24 L536.40 522.77 L536.87 523.31 L537.33 523.84 L537.80 524.38 L538.26 524.92 L538.72 525.46 L539.18 526.01 L539.63 526.55 L540.09 527.10 L540.54 527.65 L540.99 528.20 L541.44 528.76 L541.88 529.31 L542.32 529.87 L542.76 530.43 L543.20 530.99 L543.64 531.55 L544.07 532.11 L544.50 532.68 L544.93 533.24 L545.36 533.81 L545.79 534.38 L546.21 534.95 L546.63 535.53 L547.05 536.10 L547.47 536.68 L547.88 537.25 L548.29 537.83 L548.70 538.41 L549.11 539.00 L549.52 539.58 L549.92 540.17 L550.33 540.75 L550.73 541.34 L551.13 541.93 L551.52 542.52 L551.92 543.11 L552.31 543.71 L552.70 544.30 L553.09 544.90 L553.48 545.50 L553.86 546.10 L554.25 546.70 L554.63 547.30 L555.01 547.90 L555.38 548.51 L555.76 549.12 L556.13 549.72 L556.50 550.33 L556.87 550.94 L557.24 551.55 L557.61 552.17 L557.97 552.78 L558.34 553.40 L558.70 554.01 L559.06 554.63 L559.41 555.25 L559.77 555.87 L560.12 556.49 L560.47 557.11 L560.82 557.74 L561.17 558.36 L561.52 558.99 L561.86 559.61 L562.21 560.24 L562.55 560.87 L562.89 561.50 L563.23 562.13 L563.56 562.76 L563.90 563.40 L564.23 564.03 L564.56 564.67 L564.89 565.30 L565.22 565.94 L565.55 566.58 L565.87 567.22 L566.20 567.86 L566.52 568.50 L566.84 569.14 L567.16 569.79 L567.47 570.43 L567.79 571.07 L568.10 571.72 L568.41 572.37 L568.73 573.01 L569.03 573.66 L569.34 574.31 L569.65 574.96 L569.95 575.61 L570.26 576.27 L570.56 576.92 L570.86 577.57 L571.16 578.23 L571.46 578.88 L571.75 579.54 L572.05 580.19 L572.34 580.85 L572.63 581.51 L572.92 582.17 L573.21 582.82 L573.50 583.48 L573.79 584.15 L574.07 584.81 L574.35 585.47 L574.64 586.13 L574.92 586.79 L575.20 587.46 L575.47 588.12 L575.75 588.79 L576.03 589.45 L576.30 590.12 L576.57 590.79 L576.85 591.45 L577.12 592.12 L577.39 592.79 L577.65 593.46 L577.92 594.13 L578.19 594.80 L578.45 595.47 L578.71 596.14 L578.98 596.81 L579.24 597.48 L579.50 598.15 L579.75 598.82 L580.01 599.50 L580.27 600.17 L580.52 600.84 L580.78 601.52 L581.03 602.19 L581.28 602.86 L581.53 603.54 L581.78 604.21 L582.03 604.89 L582.28 605.56 L582.52 606.24 L582.77 606.92 L583.01 607.59 L583.25 608.27 L583.50 608.95 L583.74 609.62 L583.98 610.30 L584.22 610.98 L584.45 611.66 L584.69 612.33 L584.93 613.01 L585.16 613.69 L585.40 614.37 L585.63 615.05 L585.86 615.73 L586.09 616.40 L586.32 617.08 L586.55 617.76 L586.78 618.44 L587.01 619.12 L587.24 619.80 L587.46 620.48 L587.69 621.16 L587.91 621.84 L588.13 622.52 L588.35 623.20 L588.58 623.88 L588.79 624.56 L589.01 625.24 L589.23 625.92 L589.45 626.60 L589.66 627.28 L589.88 627.96 L590.09 628.64 L590.31 629.32 L590.52 630.00 L590.73 630.68 L590.94 631.36 L591.15 632.04 L591.35 632.72 L591.56 633.40 L591.76 634.08 L591.97 634.76 L592.17 635.45 L592.37 636.13 L592.58 636.81 L592.78 637.49 L592.97 638.17 L593.17 638.86 L593.37 639.54 L593.56 640.22 L593.76 640.90 L593.95 641.58 L594.14 642.27 L594.33 642.95 L594.52 643.63 L594.71 644.31 L594.90 645.00 L595.09 645.68 L595.27 646.36 L595.45 647.05 L595.64 647.73 L595.82 648.41 L596.00 649.10 L596.18 649.78 L596.35 650.47 L596.53 651.15 L596.71 651.83 L596.88 652.52 L597.05 653.20 L597.22 653.89 L597.40 654.57 L597.56 655.26 L597.73 655.94 L597.90 656.63 L598.06 657.31 L598.23 658.00 L598.39 658.68 L598.55 659.37 L598.71 660.05 L598.87 660.74 L599.03 661.42 L599.18 662.11 L599.34 662.79 L599.49 663.48 L599.64 664.17 L599.80 664.85 L599.94 665.54 L600.09 666.23 L600.24 666.91 L600.38 667.60 L600.53 668.29 L600.67 668.97 L600.81 669.66 L600.95 670.35 L601.09 671.04 L601.23 671.72 L601.36 672.41 L601.50 673.10 L601.63 673.79 L601.76 674.49 L601.90 675.18 L602.03 675.88 L602.16 676.58 L602.28 677.28 L602.41 677.98 L602.54 678.69 L602.67 679.40 L602.79 680.12 L602.92 680.83 L603.04 681.56 L603.17 682.28 L603.29 683.01 L603.41 683.75 L603.54 684.49 L603.66 685.24 L603.78 685.99 L603.90 686.75 L604.03 687.52 L604.15 688.29 L604.27 689.07 L604.40 689.85 L604.52 690.64 L604.65 691.42 L604.77 692.21 L604.90 693.00 L605.04 693.79 L605.18 694.57 L605.32 695.34 L605.47 696.11 L605.62 696.86 L605.78 697.61 L605.94 698.34 L606.12 699.06 L606.30 699.75 L606.49 700.43 L606.68 701.10 L606.89 701.73 L607.11 702.33 L607.32 702.87 L607.54 703.34 L607.75 703.71 L607.96 703.97 L608.16 704.09 L608.34 704.06 L608.51 703.88 L608.66 703.56 L608.81 703.12 L608.95 702.60 L609.08 702.00 L609.21 701.35 L609.35 700.68 L609.48 700.00 L609.62 699.32 L609.77 698.63 L609.91 697.95 L610.07 697.26 L610.22 696.57 L610.38 695.88 L610.54 695.18 L610.70 694.49 L610.87 693.79 L611.04 693.10 L611.21 692.40 L611.39 691.70 L611.56 691.00 L611.74 690.30 L611.92 689.60 L612.11 688.89 L612.29 688.19 L612.48 687.48 L612.67 686.78 L612.86 686.07 L613.05 685.36 L613.24 684.66 L613.44 683.95 L613.63 683.24 L613.82 682.53 L614.02 681.82 L614.22 681.11 L614.41 680.40 L614.61 679.69 L614.81 678.98 L615.00 678.27 L615.20 677.56 L615.40 676.85 L615.59 676.14 L615.79 675.43 L615.98 674.72 L616.18 674.00 L616.37 673.30 L616.56 672.59 L616.75 671.88 L616.94 671.17 L617.13 670.46 L617.32 669.75 L617.50 669.05 L617.69 668.34 L617.87 667.63 L618.05 666.93 L618.23 666.23 L618.40 665.52 L618.58 664.82 L618.76 664.12 L618.93 663.41 L619.10 662.71 L619.27 662.01 L619.44 661.31 L619.61 660.61 L619.78 659.91 L619.94 659.21 L620.11 658.51 L620.27 657.81 L620.43 657.11 L620.60 656.42 L620.76 655.72 L620.92 655.02 L621.07 654.33 L621.23 653.63 L621.39 652.94 L621.55 652.24 L621.70 651.55 L621.86 650.85 L622.01 650.16 L622.16 649.47 L622.31 648.77 L622.47 648.08 L622.62 647.39 L622.77 646.70 L622.92 646.00 L623.06 645.31 L623.21 644.62 L623.36 643.93 L623.51 643.24 L623.66 642.55 L623.80 641.86 L623.95 641.17 L624.09 640.48 L624.24 639.79 L624.39 639.10 L624.53 638.41 L624.67 637.72 L624.82 637.03 L624.96 636.35 L625.11 635.66 L625.25 634.97 L625.40 634.28 L625.54 633.60 L625.68 632.91 L625.83 632.22 L625.97 631.53 L626.11 630.85 L626.26 630.16 L626.40 629.47 L626.55 628.79 L626.69 628.10 L626.84 627.41 L626.98 626.73 L627.13 626.04 L627.27 625.35 L627.42 624.67 L627.56 623.98 L627.71 623.29 L627.86 622.61 L628.00 621.92 L628.15 621.24 L628.30 620.55 L628.45 619.86 L628.60 619.18 L628.75 618.49 L628.90 617.81 L629.05 617.12 L629.20 616.43 L629.35 615.75 L629.50 615.06 L629.66 614.37 L629.81 613.69 L629.97 613.00 L630.13 612.31 L630.28 611.63 L630.44 610.94 L630.60 610.25 L630.76 609.56 L630.92 608.88 L631.08 608.19 L631.25 607.50 L631.41 606.81 L631.58 606.12 L631.74 605.44 L631.91 604.75 L632.08 604.06 L632.25 603.37 L632.42 602.68 L632.59 601.99 L632.77 601.30 L632.94 600.61 L633.12 599.92 L633.30 599.23 L633.48 598.54 L633.66 597.85 L633.84 597.16 L634.02 596.47 L634.21 595.77 L634.40 595.08 L634.58 594.39 L634.78 593.70 L634.97 593.00 L635.16 592.31 L635.36 591.61 L635.55 590.92 L635.75 590.22 L635.95 589.53 L636.16 588.83 L636.36 588.14 L636.57 587.44 L636.78 586.74 L636.99 586.05 L637.20 585.35 L637.41 584.65 L637.63 583.95 L637.85 583.25 L638.07 582.55 L638.29 581.85 L638.52 581.15 L638.74 580.45 L638.97 579.75 L639.20 579.05 L639.44 578.35 L639.68 577.65 L639.91 576.94 L640.16 576.24 L640.40 575.54 L640.65 574.84 L640.90 574.14 L641.15 573.44 L641.40 572.74 L641.66 572.04 L641.92 571.35 L642.18 570.65 L642.45 569.95 L642.72 569.26 L642.99 568.57 L643.26 567.88 L643.54 567.19 L643.82 566.50 L644.10 565.82 L644.39 565.14 L644.68 564.45 L644.98 563.78 L645.27 563.10 L645.57 562.43 L645.88 561.75 L646.18 561.09 L646.49 560.42 L646.81 559.76 L647.13 559.10 L647.45 558.44 L647.77 557.79 L648.10 557.14 L648.43 556.49 L648.77 555.85 L649.11 555.21 L649.46 554.57 L649.80 553.94 L650.16 553.31 L650.51 552.69 L650.87 552.07 L651.24 551.46 L651.61 550.85 L651.98 550.24 L652.36 549.64 L652.74 549.04 L653.13 548.45 L653.52 547.87 L653.91 547.29 L654.31 546.71 L654.71 546.14 L655.12 545.58 L655.54 545.02 L655.95 544.47 L656.38 543.92 L656.80 543.38 L657.24 542.84 L657.67 542.31 L658.12 541.79 L658.56 541.28 L659.01 540.77 L659.47 540.26 L659.93 539.77 L660.40 539.28 L660.87 538.80 L661.35 538.32 L661.83 537.85 L662.32 537.39 L662.81 536.94 L663.31 536.50 L663.82 536.06 L664.33 535.63 L664.84 535.21 L665.36 534.79 L665.89 534.38 L666.42 533.98 L666.96 533.59 L667.50 533.20 L668.04 532.83 L668.59 532.45 L669.15 532.09 L669.71 531.73 L670.27 531.38 L670.84 531.04 L671.42 530.70 L672.00 530.37 L672.58 530.05 L673.17 529.73 L673.76 529.42 L674.36 529.11 L674.96 528.81 L675.57 528.52 L676.18 528.24 L676.79 527.96 L677.41 527.68 L678.03 527.41 L678.66 527.15 L679.29 526.89 L679.92 526.64 L680.56 526.40 L681.20 526.16 L681.84 525.92 L682.49 525.70 L683.15 525.47 L683.80 525.25 L684.46 525.04 L685.12 524.83 L685.79 524.63 L686.46 524.43 L687.13 524.24 L687.80 524.05 L688.48 523.87 L689.16 523.69 L689.85 523.52 L690.54 523.35 L691.23 523.19 L691.92 523.03 L692.62 522.87 L693.31 522.72 L694.02 522.57 L694.72 522.43 L695.43 522.29 L696.13 522.16 L696.85 522.02 L697.56 521.90 L698.28 521.77 L698.99 521.66 L699.71 521.54 L700.44 521.43 L701.16 521.32 L701.89 521.21 L702.62 521.11 L703.35 521.01 L704.08 520.92 L704.81 520.82 L705.55 520.74 L706.28 520.65 L707.02 520.57 L707.76 520.49 L708.51 520.41 L709.25 520.33 L709.99 520.26 L710.74 520.19 L711.49 520.13 L712.24 520.06 L712.99 520.00 L713.74 519.94 L714.49 519.88 L715.24 519.83 L715.99 519.77 L716.75 519.72 L717.50 519.67 L718.26 519.63 L719.02 519.58 L719.78 519.54 L720.53 519.49 L721.29 519.45 L722.05 519.41 L722.81 519.38 L723.57 519.34 L724.33 519.31 L725.09 519.27 L725.85 519.24 L726.61 519.21 L727.37 519.18 L728.13 519.15 L728.89 519.12 L729.65 519.09 L730.41 519.07 L731.17 519.04 L731.93 519.02 L732.69 518.99 L733.45 518.97 L734.21 518.94 L734.97 518.92 L735.72 518.90 L736.48 518.87 L737.24 518.85 L737.99 518.83 L738.75 518.80 L739.50 518.78 L740.25 518.76 L741.01 518.73 L741.76 518.71 L742.51 518.68 L743.25 518.66 L744.00 518.63 L744.75 518.61 L745.49 518.58 L746.24 518.55 L746.98 518.53 L747.72 518.50 L748.46 518.47 L749.19 518.44 L749.93 518.40 L750.66 518.37 L751.39 518.34 L752.12 518.30 L752.85 518.26 L753.58 518.22 L754.30 518.18 L755.03 518.14 L755.75 518.10 L756.46 518.05 L757.18 518.01 L757.89 517.96 L758.60 517.91 L759.31 517.86 L760.02 517.80 L760.72 517.74 L761.42 517.69 L762.12 517.62 L762.82 517.56 L763.51 517.49 L764.20 517.43 L764.89 517.35 L765.57 517.28 L766.25 517.20 L766.93 517.12 L767.61 517.04 L768.28 516.96 L768.95 516.87 L769.61 516.78 L770.28 516.68 L770.93 516.58 L771.59 516.48 L772.24 516.38 L772.89 516.27 L773.53 516.16 L774.18 516.05 L774.81 515.93 L775.45 515.81 L776.08 515.68 L776.70 515.55 L777.32 515.42 L777.94 515.28 L778.55 515.14 L779.16 514.99 L779.77 514.84 L780.37 514.69 L780.97 514.53 L781.56 514.36 L782.15 514.20 L782.73 514.02 L783.31 513.85 L783.88 513.67 L784.45 513.48" stroke="#e01818" stroke-width="2.4" fill="none" stroke-linejoin="round"/>
<path d="M479.32 492.86 L480.11 492.83 L480.90 492.80 L481.69 492.78 L482.47 492.76 L483.25 492.74 L484.03 492.72 L484.80 492.71 L485.57 492.71 L486.34 492.71 L487.10 492.71 L487.86 492.71 L488.61 492.72 L489.37 492.73 L490.12 492.75 L490.86 492.76 L491.61 492.79 L492.35 492.81 L493.09 492.84 L493.82 492.87 L494.55 492.90 L495.28 492.94 L496.01 492.98 L496.73 493.02 L497.45 493.07 L498.17 493.12 L498.89 493.17 L499.60 493.23 L500.31 493.29 L501.02 493.35 L501.73 493.41 L502.43 493.48 L503.14 493.55 L503.84 493.62 L504.53 493.69 L505.23 493.77 L505.92 493.85 L506.61 493.93 L507.30 494.02 L507.99 494.10 L508.68 494.19 L509.36 494.29 L510.04 494.38 L510.72 494.48 L511.40 494.57 L512.08 494.68 L512.75 494.78 L513.43 494.88 L514.10 494.99 L514.77 495.10 L515.44 495.21 L516.11 495.32 L516.77 495.44 L517.44 495.56 L518.10 495.68 L518.77 495.80 L519.43 495.92 L520.09 496.04 L520.75 496.17 L521.41 496.30 L522.07 496.43 L522.72 496.56 L523.38 496.69 L524.04 496.82 L524.69 496.96 L525.35 497.10 L526.00 497.23 L526.65 497.37 L527.30 497.52 L527.96 497.66 L528.61 497.80 L529.26 497.95 L529.91 498.09 L530.56 498.24 L531.21 498.39 L531.86 498.54 L532.51 498.69 L533.16 498.84 L533.81 498.99 L534.46 499.14 L535.11 499.30 L535.76 499.45 L536.41 499.61 L537.06 499.76 L537.71 499.92 L538.36 500.08 L539.01 500.24 L539.66 500.39 L540.31 500.55 L540.96 500.71 L541.61 500.87 L542.27 501.03 L542.92 501.20 L543.57 501.36 L544.23 501.52 L544.88 501.68 L545.54 501.84 L546.20 502.01 L546.86 502.17 L547.51 502.33 L548.17 502.50 L548.83 502.66 L549.50 502.82 L550.16 502.98 L550.82 503.15 L551.49 503.31 L552.16 503.47 L552.82 503.64 L553.49 503.80 L554.16 503.96 L554.84 504.12 L555.51 504.28 L556.19 504.45 L556.86 504.61 L557.54 504.77 L558.22 504.93 L558.90 505.09 L559.59 505.24 L560.27 505.40 L560.96 505.56 L561.65 505.72 L562.34 505.88 L563.03 506.03 L563.72 506.19 L564.42 506.34 L565.11 506.50 L565.81 506.66 L566.51 506.81 L567.21 506.97 L567.91 507.12 L568.61 507.28 L569.32 507.43 L570.02 507.59 L570.73 507.74 L571.43 507.90 L572.14 508.05 L572.85 508.21 L573.56 508.36 L574.27 508.52 L574.98 508.67 L575.69 508.83 L576.41 508.99 L577.12 509.14 L577.83 509.30 L578.55 509.46 L579.26 509.62 L579.98 509.78 L580.70 509.93 L581.41 510.09 L582.13 510.25 L582.85 510.41 L583.57 510.58 L584.29 510.74 L585.00 510.90 L585.72 511.06 L586.44 511.23 L587.16 511.39 L587.88 511.56 L588.60 511.72 L589.32 511.89 L590.04 512.06 L590.76 512.23 L591.48 512.40 L592.20 512.57 L592.92 512.74 L593.63 512.92 L594.35 513.09 L595.07 513.27 L595.79 513.44 L596.50 513.62 L597.22 513.80 L597.94 513.98 L598.65 514.17 L599.37 514.35 L600.08 514.53 L600.80 514.72 L601.51 514.91 L602.22 515.10 L602.93 515.29 L603.64 515.48 L604.35 515.68 L605.06 515.87 L605.77 516.07 L606.48 516.27 L607.19 516.47 L607.89 516.67 L608.59 516.88 L609.30 517.08 L610.00 517.29 L610.70 517.50 L611.40 517.72 L612.10 517.93 L612.79 518.15 L613.49 518.36 L614.18 518.58 L614.87 518.81 L615.56 519.03 L616.25 519.26 L616.94 519.49 L617.63 519.72 L618.31 519.95 L618.99 520.19 L619.67 520.43 L620.35 520.67 L621.03 520.91 L621.71 521.16 L622.38 521.40 L623.05 521.65 L623.72 521.91 L624.39 522.16 L625.05 522.42 L625.71 522.68 L626.37 522.95 L627.03 523.21 L627.69 523.48 L628.34 523.75 L629.00 524.03 L629.64 524.31 L630.29 524.59 L630.94 524.87 L631.58 525.16 L632.22 525.45 L632.85 525.74 L633.49 526.04 L634.12 526.34 L634.75 526.64 L635.37 526.94 L636.00 527.25 L636.62 527.56 L637.23 527.88 L637.85 528.20 L638.46 528.52 L639.07 528.84 L639.68 529.17 L640.28 529.50 L640.88 529.84 L641.47 530.18 L642.07 530.52 L642.66 530.86 L643.24 531.21 L643.83 531.57 L644.40 531.92 L644.98 532.28 L645.55 532.65 L646.12 533.02 L646.69 533.39 L647.25 533.76 L647.81 534.14 L648.37 534.53 L648.92 534.92 L649.46 535.31 L650.01 535.70 L650.55 536.10 L651.08 536.51 L651.62 536.91 L652.14 537.33 L652.67 537.74 L653.19 538.16 L653.70 538.59 L654.22 539.02 L654.72 539.45 L655.23 539.89 L655.73 540.33 L656.22 540.78 L656.71 541.23 L657.20 541.68 L657.68 542.14 L658.16 542.61 L658.63 543.07 L659.10 543.55 L659.57 544.02 L660.03 544.50 L660.49 544.99 L660.94 545.48 L661.39 545.97 L661.83 546.47 L662.27 546.97 L662.71 547.48 L663.14 547.98 L663.57 548.50 L664.00 549.01 L664.42 549.53 L664.84 550.06 L665.25 550.59 L665.66 551.12 L666.07 551.65 L666.47 552.19 L666.87 552.74 L667.26 553.28 L667.65 553.83 L668.04 554.38 L668.42 554.94 L668.80 555.50 L669.18 556.06 L669.55 556.63 L669.92 557.20 L670.28 557.77 L670.64 558.35 L671.00 558.93 L671.36 559.51 L671.71 560.09 L672.05 560.68 L672.40 561.27 L672.74 561.87 L673.08 562.46 L673.41 563.06 L673.74 563.67 L674.07 564.27 L674.39 564.88 L674.71 565.49 L675.03 566.10 L675.34 566.72 L675.65 567.34 L675.96 567.96 L676.27 568.58 L676.57 569.21 L676.87 569.84 L677.16 570.47 L677.45 571.10 L677.74 571.74 L678.03 572.38 L678.31 573.02 L678.59 573.66 L678.87 574.31 L679.14 574.95 L679.41 575.60 L679.68 576.25 L679.94 576.91 L680.21 577.56 L680.47 578.22 L680.72 578.88 L680.98 579.54 L681.23 580.20 L681.48 580.86 L681.72 581.53 L681.97 582.20 L682.21 582.87 L682.44 583.54 L682.68 584.21 L682.91 584.88 L683.14 585.56 L683.37 586.24 L683.59 586.92 L683.81 587.60 L684.03 588.28 L684.25 588.96 L684.47 589.64 L684.68 590.33 L684.89 591.01 L685.10 591.70 L685.30 592.39 L685.50 593.08 L685.70 593.77 L685.90 594.46 L686.10 595.16 L686.29 595.85 L686.48 596.54 L686.67 597.24 L686.86 597.93 L687.04 598.63 L687.23 599.33 L687.41 600.03 L687.59 600.73 L687.76 601.43 L687.94 602.13 L688.11 602.83 L688.28 603.53 L688.45 604.23 L688.62 604.93 L688.78 605.63 L688.94 606.34 L689.10 607.04 L689.26 607.74 L689.42 608.45 L689.57 609.15 L689.73 609.86 L689.88 610.56 L690.03 611.26 L690.18 611.97 L690.32 612.67 L690.47 613.38 L690.61 614.08 L690.75 614.79 L690.89 615.49 L691.03 616.19 L691.17 616.90 L691.30 617.60 L691.44 618.30 L691.57 619.00 L691.70 619.71 L691.83 620.41 L691.95 621.11 L692.08 621.81 L692.21 622.51 L692.33 623.21 L692.45 623.91 L692.57 624.61 L692.69 625.31 L692.81 626.00 L692.93 626.70 L693.04 627.40 L693.16 628.10 L693.27 628.79 L693.38 629.49 L693.50 630.18 L693.61 630.88 L693.72 631.57 L693.83 632.26 L693.93 632.96 L694.04 633.65 L694.15 634.34 L694.25 635.03 L694.36 635.73 L694.46 636.42 L694.56 637.11 L694.67 637.80 L694.77 638.49 L694.87 639.18 L694.97 639.87 L695.07 640.55 L695.17 641.24 L695.27 641.93 L695.37 642.62 L695.46 643.31 L695.56 643.99 L695.66 644.68 L695.76 645.36 L695.85 646.05 L695.95 646.74 L696.04 647.42 L696.14 648.11 L696.24 648.79 L696.33 649.47 L696.43 650.16 L696.52 650.84 L696.62 651.52 L696.71 652.21 L696.81 652.89 L696.90 653.57 L697.00 654.25 L697.10 654.94 L697.19 655.62 L697.29 656.30 L697.38 656.98 L697.48 657.66 L697.58 658.34 L697.67 659.02 L697.77 659.70 L697.87 660.38 L697.97 661.06 L698.07 661.74 L698.16 662.42 L698.26 663.10 L698.36 663.78 L698.47 664.45 L698.57 665.13 L698.67 665.81 L698.77 666.49 L698.87 667.17 L698.98 667.84 L699.08 668.52 L699.19 669.20 L699.29 669.87 L699.40 670.55 L699.51 671.23 L699.62 671.90 L699.73 672.58 L699.84 673.25 L699.95 673.93 L700.06 674.61 L700.18 675.28 L700.29 675.96 L700.41 676.63 L700.53 677.31 L700.65 677.98 L700.77 678.66 L700.89 679.33 L701.01 680.01 L701.13 680.68 L701.26 681.36 L701.38 682.03 L701.51 682.71 L701.64 683.38 L701.77 684.05 L701.91 684.73 L702.04 685.40 L702.17 686.08 L702.31 686.75 L702.45 687.42 L702.59 688.10 L702.73 688.77 L702.88 689.45 L703.02 690.12 L703.17 690.79 L703.32 691.47 L703.47 692.14 L703.63 692.81 L703.78 693.49 L703.94 694.16 L704.10 694.84 L704.26 695.51 L704.42 696.17 L704.58 696.83 L704.75 697.46 L704.92 698.07 L705.08 698.65 L705.25 699.19 L705.41 699.68 L705.58 700.13 L705.74 700.51 L705.91 700.84 L706.07 701.09 L706.23 701.27 L706.39 701.36 L706.54 701.37 L706.70 701.28 L706.84 701.10 L706.99 700.80 L707.13 700.39 L707.27 699.86 L707.40 699.20 L707.53 698.43 L707.66 697.56 L707.78 696.62 L707.90 695.62 L708.03 694.61 L708.15 693.60 L708.28 692.60 L708.41 691.63 L708.54 690.69 L708.67 689.76 L708.80 688.86 L708.94 687.98 L709.08 687.11 L709.22 686.27 L709.36 685.44 L709.50 684.63 L709.65 683.84 L709.79 683.07 L709.94 682.31 L710.08 681.56 L710.23 680.83 L710.38 680.12 L710.52 679.41 L710.67 678.72 L710.82 678.04 L710.97 677.37 L711.12 676.71 L711.27 676.05 L711.42 675.41 L711.56 674.77 L711.71 674.14 L711.86 673.52 L712.00 672.90 L712.15 672.29 L712.29 671.68 L712.44 671.07 L712.58 670.47 L712.72 669.87 L712.86 669.27 L713.00 668.67 L713.13 668.07 L713.27 667.46 L713.40 666.86 L713.53 666.25 L713.66 665.64 L713.79 665.03 L713.91 664.41 L714.03 663.79 L714.15 663.16 L714.27 662.52 L714.38 661.88 L714.49 661.24 L714.60 660.58 L714.71 659.93 L714.82 659.27 L714.93 658.60 L715.03 657.94 L715.13 657.26 L715.23 656.59 L715.33 655.91 L715.43 655.23 L715.53 654.54 L715.63 653.86 L715.73 653.17 L715.83 652.47 L715.93 651.78 L716.03 651.09 L716.12 650.39 L716.22 649.69 L716.32 649.00 L716.42 648.30 L716.52 647.60 L716.62 646.90 L716.73 646.20 L716.83 645.50 L716.93 644.80 L717.03 644.10 L717.14 643.39 L717.24 642.69 L717.35 641.99 L717.46 641.28 L717.57 640.58 L717.67 639.87 L717.78 639.17 L717.89 638.46 L718.00 637.75 L718.12 637.05 L718.23 636.34 L718.34 635.63 L718.46 634.93 L718.57 634.22 L718.69 633.51 L718.81 632.81 L718.93 632.10 L719.05 631.39 L719.17 630.68 L719.29 629.97 L719.42 629.27 L719.54 628.56 L719.67 627.85 L719.80 627.14 L719.93 626.43 L720.06 625.73 L720.19 625.02 L720.32 624.31 L720.46 623.60 L720.59 622.90 L720.73 622.19 L720.87 621.48 L721.01 620.78 L721.15 620.07 L721.29 619.37 L721.44 618.66 L721.59 617.96 L721.73 617.25 L721.88 616.55 L722.04 615.85 L722.19 615.15 L722.34 614.44 L722.50 613.74 L722.66 613.04 L722.82 612.34 L722.98 611.64 L723.14 610.94 L723.31 610.25 L723.48 609.55 L723.65 608.85 L723.82 608.16 L723.99 607.46 L724.17 606.77 L724.34 606.07 L724.52 605.38 L724.71 604.69 L724.89 604.00 L725.08 603.31 L725.26 602.62 L725.45 601.93 L725.65 601.25 L725.84 600.56 L726.04 599.88 L726.23 599.20 L726.44 598.51 L726.64 597.83 L726.85 597.15 L727.05 596.48 L727.26 595.80 L727.48 595.12 L727.69 594.45 L727.91 593.78 L728.13 593.11 L728.35 592.44 L728.58 591.77 L728.81 591.10 L729.04 590.44 L729.27 589.77 L729.50 589.11 L729.74 588.45 L729.98 587.79 L730.23 587.13 L730.47 586.48 L730.72 585.82 L730.97 585.17 L731.23 584.52 L731.49 583.87 L731.75 583.22 L732.01 582.58 L732.27 581.93 L732.54 581.29 L732.82 580.65 L733.09 580.02 L733.37 579.38 L733.65 578.75 L733.93 578.11 L734.22 577.48 L734.51 576.86 L734.80 576.23 L735.10 575.61 L735.40 574.99 L735.70 574.37 L736.01 573.75 L736.31 573.13 L736.63 572.52 L736.94 571.91 L737.26 571.30 L737.58 570.70 L737.91 570.10 L738.24 569.49 L738.57 568.90 L738.90 568.30 L739.24 567.71 L739.59 567.12 L739.93 566.53 L740.28 565.94 L740.63 565.36 L740.99 564.78 L741.35 564.20 L741.72 563.62 L742.08 563.05 L742.45 562.48 L742.83 561.91 L743.21 561.35 L743.59 560.79 L743.98 560.23 L744.36 559.67 L744.76 559.12 L745.16 558.57 L745.56 558.02 L745.96 557.48 L746.37 556.94 L746.78 556.40 L747.20 555.86 L747.62 555.33 L748.05 554.80 L748.48 554.28 L748.91 553.75 L749.35 553.23 L749.79 552.72 L750.23 552.20 L750.68 551.69 L751.14 551.19 L751.59 550.68 L752.06 550.18 L752.52 549.69 L752.99 549.19 L753.47 548.70 L753.95 548.22 L754.43 547.73 L754.92 547.25 L755.41 546.78 L755.91 546.31 L756.41 545.84 L756.91 545.37 L757.42 544.91 L757.94 544.45 L758.46 544.00 L758.98 543.55 L759.51 543.10 L760.04 542.66 L760.58 542.22 L761.12 541.78 L761.67 541.35 L762.22 540.92 L762.78 540.50 L763.34 540.08 L763.91 539.66 L764.48 539.25 L765.05 538.84 L765.63 538.44 L766.22 538.04 L766.81 537.65 L767.40 537.25 L768.00 536.87 L768.61 536.48 L769.22 536.10 L769.83 535.73 L770.45 535.36 L771.08 534.99 L771.71 534.63 L772.34 534.27 L772.98 533.92 L773.63 533.57 L774.28 533.23 L774.94 532.89 L775.60 532.55 L776.27 532.22 L776.94 531.89 L777.62 531.57 L778.30 531.25 L778.99 530.94 L779.68 530.63 L780.38 530.33 L781.08 530.03 L781.79 529.73 L782.51 529.45 L783.23 529.16 L783.95 528.88 L784.69 528.61 L785.42 528.34 L786.17 528.07" stroke="#0a0a0a" stroke-width="2.4" fill="none" stroke-linejoin="round"/>
<polygon points="582.0,514.0 589.5,516.5 589.5,580.0 582.0,581.5" fill="#c6c7cc" />
<rect x="521.5" y="514" width="60.5" height="67.5" fill="#e9e9ec"/>
<rect x="528" y="524.4" width="5" height="44.4" fill="#e2bf5c"/><rect x="533" y="524.4" width="2" height="44.4" fill="#c9a442"/>
<rect x="528" y="566.3" width="44.5" height="5" fill="#e2bf5c"/><rect x="570.5" y="566.3" width="2" height="5" fill="#c9a442"/>
<path d="M530.0 569.4 L514.5 549.5" stroke="#1a1a1a" stroke-width="2.60" fill="none"/><polygon points="506.9,541.2 520.9,547.8 510.7,556.2" fill="#1a1a1a" />
<path d="M530.0 569.4 L549.5 550.5" stroke="#1a1a1a" stroke-width="2.60" fill="none"/><polygon points="557.5,542.5 552.1,557.0 542.9,547.6" fill="#1a1a1a" />
<text x="488.81" y="540.43" font-size="16.69" class="t" style="fill:#2a2a2a">135°</text>
<text x="548.23" y="540.43" font-size="16.69" class="t" style="fill:#2a2a2a">45°</text>
<rect x="480.0" y="492.5" width="305.5" height="225.0" fill="none" stroke="#111" stroke-width="1.60"/>
<path d="M480.0 717.5 v-4.5 M480.0 492.5 v4.5 M538.8 717.5 v-4.5 M538.8 492.5 v4.5 M597.5 717.5 v-4.5 M597.5 492.5 v4.5 M656.2 717.5 v-4.5 M656.2 492.5 v4.5 M715.0 717.5 v-4.5 M715.0 492.5 v4.5 M773.8 717.5 v-4.5 M773.8 492.5 v4.5 M509.4 717.5 v-2.6 M509.4 492.5 v2.6 M568.1 717.5 v-2.6 M568.1 492.5 v2.6 M626.9 717.5 v-2.6 M626.9 492.5 v2.6 M685.6 717.5 v-2.6 M685.6 492.5 v2.6 M744.4 717.5 v-2.6 M744.4 492.5 v2.6 M480.0 717.5 h4.5 M785.5 717.5 h-4.5 M480.0 672.5 h4.5 M785.5 672.5 h-4.5 M480.0 627.5 h4.5 M785.5 627.5 h-4.5 M480.0 582.5 h4.5 M785.5 582.5 h-4.5 M480.0 537.5 h4.5 M785.5 537.5 h-4.5 M480.0 492.5 h4.5 M785.5 492.5 h-4.5 M480.0 695.0 h2.6 M785.5 695.0 h-2.6 M480.0 650.0 h2.6 M785.5 650.0 h-2.6 M480.0 605.0 h2.6 M785.5 605.0 h-2.6 M480.0 560.0 h2.6 M785.5 560.0 h-2.6 M480.0 515.0 h2.6 M785.5 515.0 h-2.6 " stroke="#111" stroke-width="1.4" fill="none"/>
<text x="474" y="723.7" font-size="21" class="t" text-anchor="end">0.0</text>
<text x="474" y="678.7" font-size="21" class="t" text-anchor="end">0.2</text>
<text x="474" y="633.7" font-size="21" class="t" text-anchor="end">0.4</text>
<text x="474" y="588.7" font-size="21" class="t" text-anchor="end">0.6</text>
<text x="474" y="543.7" font-size="21" class="t" text-anchor="end">0.8</text>
<text x="474" y="498.7" font-size="21" class="t" text-anchor="end">1.0</text>
<text x="480.0" y="739.4" font-size="21" class="t" text-anchor="middle">0</text>
<text x="538.8" y="739.4" font-size="21" class="t" text-anchor="middle">25</text>
<text x="597.5" y="739.4" font-size="21" class="t" text-anchor="middle">50</text>
<text x="656.2" y="739.4" font-size="21" class="t" text-anchor="middle">75</text>
<text x="715.0" y="739.4" font-size="21" class="t" text-anchor="middle">100</text>
<text x="773.8" y="739.4" font-size="21" class="t" text-anchor="middle">125</text>
<text x="540.51" y="766.40" font-size="24.63" class="t">Frequency (THz)</text>
<text transform="translate(437.53 664.00) rotate(-90)" font-size="24.16" class="t">Amplitude</text>
<path d="M492.9 666.9 H533.4" stroke="#0a0a0a" stroke-width="2.4"/>
<path d="M492.9 690 H533.4" stroke="#e01818" stroke-width="2.4"/>
<text transform="translate(538.74 673.28) scale(1.088 1)" font-size="17.23" class="t">45° polarized</text>
<text transform="translate(539.21 695.67) scale(1.097 1)" font-size="16.81" class="t">135° polarized</text><text x="6.64" y="808.49" font-size="29.57" class="t">(d)</text>
<rect x="140.3" y="807.0" width="184.5" height="229.2" fill="#d9d9d9"/>
<rect x="66.0" y="807.0" width="158.0" height="120.8" fill="#ffffff"/>
<path d="M75.5 959.8 H376.0" stroke="#111" stroke-width="2.5" stroke-dasharray="2.5 6.69" fill="none"/>
<path d="M66.95 885.12 L67.16 885.54 L67.36 885.95 L67.57 886.37 L67.78 886.78 L67.99 887.19 L68.20 887.60 L68.42 888.01 L68.63 888.41 L68.85 888.82 L69.06 889.22 L69.28 889.62 L69.50 890.02 L69.72 890.42 L69.94 890.82 L70.16 891.22 L70.38 891.61 L70.61 892.01 L70.83 892.40 L71.06 892.79 L71.29 893.18 L71.52 893.57 L71.75 893.96 L71.98 894.34 L72.21 894.73 L72.45 895.11 L72.68 895.49 L72.92 895.87 L73.15 896.25 L73.39 896.63 L73.63 897.00 L73.87 897.38 L74.11 897.75 L74.36 898.12 L74.60 898.49 L74.84 898.86 L75.09 899.23 L75.34 899.60 L75.59 899.96 L75.84 900.33 L76.09 900.69 L76.34 901.05 L76.59 901.41 L76.84 901.77 L77.10 902.13 L77.35 902.48 L77.61 902.84 L77.87 903.19 L78.13 903.54 L78.39 903.89 L78.65 904.24 L78.91 904.59 L79.17 904.94 L79.44 905.28 L79.70 905.63 L79.97 905.97 L80.24 906.31 L80.50 906.65 L80.77 906.99 L81.04 907.33 L81.32 907.66 L81.59 908.00 L81.86 908.33 L82.14 908.66 L82.41 909.00 L82.69 909.33 L82.97 909.65 L83.24 909.98 L83.52 910.31 L83.80 910.63 L84.09 910.96 L84.37 911.28 L84.65 911.60 L84.94 911.92 L85.22 912.24 L85.51 912.55 L85.79 912.87 L86.08 913.18 L86.37 913.50 L86.66 913.81 L86.95 914.12 L87.25 914.43 L87.54 914.74 L87.83 915.04 L88.13 915.35 L88.42 915.65 L88.72 915.96 L89.02 916.26 L89.32 916.56 L89.62 916.86 L89.92 917.16 L90.22 917.45 L90.52 917.75 L90.82 918.04 L91.13 918.34 L91.43 918.63 L91.74 918.92 L92.05 919.21 L92.36 919.50 L92.66 919.79 L92.97 920.07 L93.28 920.36 L93.60 920.64 L93.91 920.92 L94.22 921.20 L94.54 921.48 L94.85 921.76 L95.17 922.04 L95.48 922.31 L95.80 922.59 L96.12 922.86 L96.44 923.14 L96.76 923.41 L97.08 923.68 L97.40 923.95 L97.72 924.22 L98.05 924.48 L98.37 924.75 L98.70 925.01 L99.02 925.27 L99.35 925.54 L99.68 925.80 L100.00 926.06 L100.33 926.32 L100.66 926.57 L101.00 926.83 L101.33 927.08 L101.66 927.34 L101.99 927.59 L102.33 927.84 L102.66 928.09 L103.00 928.34 L103.33 928.59 L103.67 928.84 L104.01 929.08 L104.35 929.33 L104.69 929.57 L105.03 929.81 L105.37 930.05 L105.71 930.29 L106.05 930.53 L106.40 930.77 L106.74 931.01 L107.09 931.24 L107.43 931.48 L107.78 931.71 L108.13 931.94 L108.47 932.17 L108.82 932.40 L109.17 932.63 L109.52 932.86 L109.87 933.08 L110.22 933.31 L110.58 933.53 L110.93 933.76 L111.28 933.98 L111.64 934.20 L111.99 934.42 L112.35 934.64 L112.70 934.85 L113.06 935.07 L113.42 935.29 L113.78 935.50 L114.14 935.71 L114.50 935.93 L114.86 936.14 L115.22 936.35 L115.58 936.56 L115.94 936.76 L116.31 936.97 L116.67 937.18 L117.04 937.38 L117.40 937.58 L117.77 937.79 L118.13 937.99 L118.50 938.19 L118.87 938.39 L119.24 938.58 L119.61 938.78 L119.98 938.98 L120.35 939.17 L120.72 939.37 L121.09 939.56 L121.46 939.75 L121.84 939.94 L122.21 940.13 L122.58 940.32 L122.96 940.51 L123.33 940.69 L123.71 940.88 L124.09 941.06 L124.46 941.25 L124.84 941.43 L125.22 941.61 L125.60 941.79 L125.98 941.97 L126.36 942.15 L126.74 942.32 L127.12 942.50 L127.50 942.68 L127.89 942.85 L128.27 943.02 L128.65 943.19 L129.04 943.37 L129.42 943.54 L129.81 943.70 L130.19 943.87 L130.58 944.04 L130.97 944.21 L131.35 944.37 L131.74 944.53 L132.13 944.70 L132.52 944.86 L132.91 945.02 L133.30 945.18 L133.69 945.34 L134.08 945.50 L134.47 945.66 L134.86 945.81 L135.26 945.97 L135.65 946.12 L136.04 946.27 L136.44 946.43 L136.83 946.58 L137.23 946.73 L137.62 946.88 L138.02 947.02 L138.41 947.17 L138.81 947.32 L139.21 947.46 L139.61 947.61 L140.00 947.75 L140.40 947.89 L140.80 948.04 L141.20 948.18 L141.60 948.32 L142.00 948.45 L142.40 948.59 L142.81 948.73 L143.21 948.87 L143.61 949.00 L144.01 949.13 L144.42 949.27 L144.82 949.40 L145.22 949.53 L145.63 949.66 L146.03 949.79 L146.44 949.92 L146.85 950.05 L147.25 950.17 L147.66 950.30 L148.07 950.42 L148.47 950.55 L148.88 950.67 L149.29 950.79 L149.70 950.91 L150.11 951.03 L150.52 951.15 L150.93 951.27 L151.34 951.39 L151.75 951.50 L152.16 951.62 L152.57 951.74 L152.98 951.85 L153.39 951.96 L153.80 952.07 L154.22 952.19 L154.63 952.30 L155.04 952.41 L155.46 952.51 L155.87 952.62 L156.29 952.73 L156.70 952.83 L157.11 952.94 L157.53 953.04 L157.95 953.15 L158.36 953.25 L158.78 953.35 L159.19 953.45 L159.61 953.55 L160.03 953.65 L160.45 953.75 L160.86 953.85 L161.28 953.94 L161.70 954.04 L162.12 954.13 L162.54 954.23 L162.96 954.32 L163.38 954.41 L163.80 954.50 L164.22 954.59 L164.64 954.68 L165.06 954.77 L165.48 954.86 L165.90 954.95 L166.32 955.03 L166.74 955.12 L167.17 955.20 L167.59 955.29 L168.01 955.37 L168.43 955.45 L168.86 955.53 L169.28 955.61 L169.70 955.69 L170.13 955.77 L170.55 955.85 L170.97 955.93 L171.40 956.01 L171.82 956.08 L172.25 956.16 L172.67 956.23 L173.10 956.30 L173.52 956.38 L173.95 956.45 L174.37 956.52 L174.80 956.59 L175.23 956.66 L175.65 956.73 L176.08 956.79 L176.51 956.86 L176.93 956.93 L177.36 956.99 L177.79 957.06 L178.21 957.12 L178.64 957.19 L179.07 957.25 L179.50 957.31 L179.92 957.37 L180.35 957.43 L180.78 957.49 L181.21 957.55 L181.64 957.61 L182.07 957.66 L182.50 957.72 L182.92 957.77 L183.35 957.83 L183.78 957.88 L184.21 957.94 L184.64 957.99 L185.07 958.04 L185.50 958.09 L185.93 958.14 L186.36 958.19 L186.79 958.24 L187.22 958.29 L187.65 958.34 L188.08 958.38 L188.51 958.43 L188.94 958.47 L189.37 958.52 L189.80 958.56 L190.23 958.61 L190.66 958.65 L191.09 958.69 L191.53 958.73 L191.96 958.77 L192.39 958.81 L192.82 958.85 L193.25 958.89 L193.68 958.92 L194.11 958.96 L194.54 959.00 L194.97 959.03 L195.41 959.07 L195.84 959.10 L196.27 959.13 L196.70 959.17 L197.13 959.20 L197.56 959.23 L197.99 959.26 L198.43 959.29 L198.86 959.32 L199.29 959.35 L199.72 959.37 L200.15 959.40 L200.58 959.43 L201.01 959.45 L201.45 959.48 L201.88 959.50 L202.31 959.53 L202.74 959.55 L203.17 959.57 L203.60 959.59 L204.03 959.62 L204.47 959.64 L204.90 959.66 L205.33 959.68 L205.76 959.70 L206.19 959.71 L206.62 959.73 L207.05 959.75 L207.49 959.77 L207.92 959.78 L208.35 959.80 L208.78 959.81 L209.21 959.83 L209.64 959.84 L210.07 959.85 L210.50 959.87 L210.94 959.88 L211.37 959.89 L211.80 959.90 L212.23 959.91 L212.66 959.92 L213.09 959.93 L213.52 959.94 L213.95 959.95 L214.39 959.96 L214.82 959.97 L215.25 959.98 L215.68 959.98 L216.11 959.99 L216.54 960.00 L216.97 960.00 L217.40 960.01 L217.83 960.02 L218.26 960.02 L218.70 960.03 L219.13 960.03 L219.56 960.03 L219.99 960.04 L220.42 960.04 L220.85 960.04 L221.28 960.04 L221.71 960.05 L222.14 960.05 L222.57 960.05 L223.00 960.05 L223.43 960.05 L223.86 960.05 L224.29 960.05 L224.73 960.05 L225.16 960.05 L225.59 960.05 L226.02 960.05 L226.45 960.05 L226.88 960.05 L227.31 960.05 L227.74 960.05 L228.17 960.04 L228.60 960.04 L229.03 960.04 L229.46 960.04 L229.89 960.03 L230.32 960.03 L230.75 960.03 L231.18 960.02 L231.61 960.02 L232.04 960.02 L232.47 960.01 L232.90 960.01 L233.33 960.00 L233.76 960.00 L234.19 960.00 L234.62 959.99 L235.04 959.99 L235.47 959.98 L235.90 959.98 L236.33 959.97 L236.76 959.97 L237.19 959.96 L237.62 959.96 L238.05 959.95 L238.48 959.95 L238.91 959.94 L239.34 959.93 L239.77 959.93 L240.19 959.92 L240.62 959.92 L241.05 959.91 L241.48 959.91 L241.91 959.90 L242.34 959.90 L242.77 959.89 L243.20 959.88 L243.62 959.88 L244.05 959.87 L244.48 959.87 L244.91 959.86 L245.34 959.86 L245.76 959.85 L246.19 959.85 L246.62 959.84 L247.05 959.84 L247.48 959.83 L247.90 959.83 L248.33 959.82 L248.76 959.82 L249.19 959.81 L249.62 959.81 L250.04 959.80 L250.47 959.80 L250.90 959.79 L251.32 959.79 L251.75 959.79 L252.18 959.78 L252.61 959.78 L253.03 959.78 L253.46 959.77 L253.89 959.77 L254.31 959.77 L254.74 959.76 L255.17 959.76 L255.59 959.76 L256.02 959.76 L256.45 959.76 L256.87 959.76 L257.30 959.75 L257.73 959.75 L258.15 959.75 L258.58 959.75 L259.00 959.75 L259.43 959.75 L259.85 959.75 L260.28 959.75 L260.71 959.75 L261.13 959.75 L261.56 959.76 L261.98 959.76 L262.41 959.76 L262.83 959.76 L263.26 959.77 L263.68 959.77 L264.11 959.77 L264.53 959.78 L264.96 959.78 L265.38 959.79 L265.81 959.79 L266.23 959.80 L266.66 959.80 L267.08 959.81 L267.50 959.82 L267.93 959.82 L268.35 959.83 L268.78 959.84 L269.20 959.85 L269.62 959.85 L270.05 959.86 L270.47 959.87 L270.89 959.88 L271.32 959.89 L271.74 959.91 L272.16 959.92 L272.59 959.93 L273.01 959.94 L273.43 959.96 L273.86 959.97 L274.28 959.98 L274.70 960.00 L275.12 960.01 L275.55 960.03 L275.97 960.04 L276.39 960.06 L276.81 960.08 L277.24 960.10 L277.66 960.12 L278.08 960.13 L278.50 960.15 L278.92 960.17 L279.34 960.20 L279.76 960.22 L280.19 960.24 L280.61 960.26 L281.03 960.29 L281.45 960.31 L281.87 960.33 L282.29 960.36 L282.71 960.39 L283.13 960.41 L283.55 960.44 L283.97 960.47 L284.39 960.50 L284.81 960.53 L285.23 960.56 L285.65 960.59 L286.07 960.62 L286.49 960.65 L286.91 960.68 L287.33 960.72 L287.75 960.75 L288.17 960.79 L288.59 960.82 L289.01 960.86 L289.43 960.90 L289.84 960.93 L290.26 960.97 L290.68 961.01 L291.10 961.05 L291.52 961.09 L291.93 961.14 L292.35 961.18 L292.77 961.22 L293.19 961.27 L293.61 961.31 L294.02 961.36 L294.44 961.41 L294.86 961.45 L295.27 961.50 L295.69 961.55 L296.11 961.60 L296.52 961.66 L296.94 961.71 L297.36 961.76 L297.77 961.82 L298.19 961.87 L298.61 961.93 L299.02 961.98 L299.44 962.04 L299.85 962.10 L300.27 962.16 L300.68 962.22 L301.10 962.28 L301.51 962.34 L301.93 962.41 L302.34 962.47 L302.76 962.54 L303.17 962.61 L303.59 962.67 L304.00 962.74 L304.41 962.81 L304.83 962.88 L305.24 962.95 L305.66 963.03 L306.07 963.10 L306.48 963.17 L306.90 963.25 L307.31 963.33 L307.72 963.41 L308.13 963.48 L308.55 963.56 L308.96 963.65 L309.37 963.73 L309.78 963.81 L310.20 963.90 L310.61 963.98 L311.02 964.07 L311.43 964.16 L311.84 964.25 L312.25 964.34 L312.67 964.43 L313.08 964.52 L313.49 964.61 L313.90 964.71 L314.31 964.80 L314.72 964.90 L315.13 965.00 L315.54 965.10 L315.95 965.20 L316.36 965.30 L316.77 965.41 L317.18 965.51 L317.59 965.62 L318.00 965.72 L318.40 965.83 L318.81 965.94 L319.22 966.05 L319.63 966.16 L320.04 966.28 L320.45 966.39 L320.85 966.51 L321.26 966.62 L321.67 966.74 L322.08 966.86 L322.48 966.98 L322.89 967.11 L323.30 967.23 L323.71 967.35 L324.11 967.48 L324.52 967.61 L324.92 967.73 L325.33 967.86 L325.74 967.99 L326.14 968.12 L326.55 968.26 L326.95 968.39 L327.36 968.53 L327.76 968.66 L328.17 968.80 L328.57 968.94 L328.98 969.08 L329.38 969.22 L329.78 969.36 L330.19 969.50 L330.59 969.64 L330.99 969.79 L331.40 969.94 L331.80 970.08 L332.20 970.23 L332.60 970.38 L333.01 970.53 L333.41 970.68 L333.81 970.83 L334.21 970.98 L334.61 971.14 L335.01 971.29 L335.41 971.45 L335.81 971.61 L336.21 971.76 L336.61 971.92 L337.01 972.08 L337.41 972.24 L337.81 972.40 L338.21 972.57 L338.61 972.73 L339.01 972.89 L339.41 973.06 L339.81 973.23 L340.20 973.39 L340.60 973.56 L341.00 973.73 L341.39 973.90 L341.79 974.07 L342.19 974.24 L342.58 974.41 L342.98 974.58 L343.38 974.76 L343.77 974.93 L344.17 975.11 L344.56 975.28 L344.96 975.46 L345.35 975.64 L345.74 975.81 L346.14 975.99 L346.53 976.17 L346.92 976.35 L347.32 976.53 L347.71 976.72 L348.10 976.90 L348.49 977.08 L348.88 977.27 L349.28 977.45 L349.67 977.64 L350.06 977.82 L350.45 978.01 L350.84 978.20 L351.23 978.38 L351.62 978.57 L352.01 978.76 L352.39 978.95 L352.78 979.14 L353.17 979.33 L353.56 979.52 L353.95 979.72 L354.33 979.91 L354.72 980.10 L355.11 980.30 L355.49 980.49 L355.88 980.68 L356.27 980.88 L356.65 981.08 L357.04 981.27 L357.42 981.47 L357.80 981.67 L358.19 981.86 L358.57 982.06 L358.95 982.26 L359.34 982.46 L359.72 982.66 L360.10 982.86 L360.48 983.06 L360.86 983.26 L361.25 983.47 L361.63 983.67 L362.01 983.87 L362.39 984.07 L362.77 984.28 L363.15 984.48 L363.52 984.68 L363.90 984.89 L364.28 985.09 L364.66 985.30 L365.04 985.50 L365.41 985.71 L365.79 985.92 L366.17 986.12 L366.54 986.33 L366.92 986.54 L367.29 986.74 L367.67 986.95 L368.04 987.16 L368.41 987.37 L368.79 987.58 L369.16 987.78 L369.53 987.99 L369.91 988.20 L370.28 988.41 L370.65 988.62 L371.02 988.83 L371.39 989.04 L371.76 989.25 L372.13 989.46 L372.50 989.67 L372.87 989.88 L373.24 990.09 L373.60 990.31 L373.97 990.52 L374.34 990.73 L374.71 990.94 L375.07 991.15 L375.44 991.36" stroke="#0a0a0a" stroke-width="2.4" fill="none"/>
<path d="M65.89 998.10 L66.26 997.85 L66.63 997.61 L67.00 997.36 L67.37 997.12 L67.74 996.88 L68.12 996.64 L68.49 996.40 L68.86 996.16 L69.23 995.93 L69.60 995.69 L69.98 995.46 L70.35 995.22 L70.72 994.99 L71.10 994.76 L71.47 994.53 L71.84 994.30 L72.22 994.07 L72.59 993.85 L72.97 993.62 L73.34 993.40 L73.72 993.17 L74.09 992.95 L74.47 992.73 L74.84 992.51 L75.22 992.29 L75.60 992.07 L75.97 991.85 L76.35 991.63 L76.73 991.42 L77.10 991.20 L77.48 990.99 L77.86 990.78 L78.24 990.57 L78.62 990.35 L78.99 990.15 L79.37 989.94 L79.75 989.73 L80.13 989.52 L80.51 989.32 L80.89 989.11 L81.27 988.91 L81.65 988.71 L82.03 988.50 L82.41 988.30 L82.79 988.10 L83.17 987.91 L83.55 987.71 L83.93 987.51 L84.31 987.32 L84.69 987.12 L85.08 986.93 L85.46 986.73 L85.84 986.54 L86.22 986.35 L86.61 986.16 L86.99 985.97 L87.37 985.78 L87.75 985.60 L88.14 985.41 L88.52 985.23 L88.91 985.04 L89.29 984.86 L89.67 984.68 L90.06 984.49 L90.44 984.31 L90.83 984.13 L91.21 983.96 L91.60 983.78 L91.98 983.60 L92.37 983.43 L92.76 983.25 L93.14 983.08 L93.53 982.90 L93.91 982.73 L94.30 982.56 L94.69 982.39 L95.08 982.22 L95.46 982.05 L95.85 981.88 L96.24 981.72 L96.63 981.55 L97.01 981.39 L97.40 981.22 L97.79 981.06 L98.18 980.90 L98.57 980.73 L98.96 980.57 L99.35 980.41 L99.74 980.25 L100.13 980.10 L100.52 979.94 L100.91 979.78 L101.30 979.63 L101.69 979.47 L102.08 979.32 L102.47 979.17 L102.86 979.02 L103.25 978.86 L103.64 978.71 L104.03 978.56 L104.42 978.42 L104.82 978.27 L105.21 978.12 L105.60 977.97 L105.99 977.83 L106.39 977.69 L106.78 977.54 L107.17 977.40 L107.57 977.26 L107.96 977.12 L108.35 976.98 L108.75 976.84 L109.14 976.70 L109.53 976.56 L109.93 976.42 L110.32 976.29 L110.72 976.15 L111.11 976.02 L111.51 975.88 L111.90 975.75 L112.30 975.62 L112.69 975.49 L113.09 975.35 L113.49 975.22 L113.88 975.10 L114.28 974.97 L114.67 974.84 L115.07 974.71 L115.47 974.59 L115.87 974.46 L116.26 974.34 L116.66 974.21 L117.06 974.09 L117.45 973.97 L117.85 973.85 L118.25 973.73 L118.65 973.61 L119.05 973.49 L119.45 973.37 L119.84 973.25 L120.24 973.13 L120.64 973.02 L121.04 972.90 L121.44 972.79 L121.84 972.67 L122.24 972.56 L122.64 972.45 L123.04 972.34 L123.44 972.22 L123.84 972.11 L124.24 972.00 L124.64 971.90 L125.04 971.79 L125.44 971.68 L125.84 971.57 L126.24 971.47 L126.65 971.36 L127.05 971.26 L127.45 971.15 L127.85 971.05 L128.25 970.95 L128.65 970.85 L129.06 970.74 L129.46 970.64 L129.86 970.54 L130.26 970.44 L130.67 970.35 L131.07 970.25 L131.47 970.15 L131.88 970.05 L132.28 969.96 L132.68 969.86 L133.09 969.77 L133.49 969.68 L133.90 969.58 L134.30 969.49 L134.70 969.40 L135.11 969.31 L135.51 969.22 L135.92 969.13 L136.32 969.04 L136.73 968.95 L137.13 968.86 L137.54 968.77 L137.95 968.69 L138.35 968.60 L138.76 968.52 L139.16 968.43 L139.57 968.35 L139.97 968.26 L140.38 968.18 L140.79 968.10 L141.19 968.02 L141.60 967.93 L142.01 967.85 L142.42 967.77 L142.82 967.69 L143.23 967.62 L143.64 967.54 L144.04 967.46 L144.45 967.38 L144.86 967.31 L145.27 967.23 L145.68 967.16 L146.08 967.08 L146.49 967.01 L146.90 966.93 L147.31 966.86 L147.72 966.79 L148.13 966.72 L148.54 966.65 L148.95 966.58 L149.36 966.51 L149.76 966.44 L150.17 966.37 L150.58 966.30 L150.99 966.23 L151.40 966.16 L151.81 966.10 L152.22 966.03 L152.63 965.97 L153.04 965.90 L153.46 965.84 L153.87 965.77 L154.28 965.71 L154.69 965.65 L155.10 965.58 L155.51 965.52 L155.92 965.46 L156.33 965.40 L156.74 965.34 L157.16 965.28 L157.57 965.22 L157.98 965.16 L158.39 965.10 L158.80 965.05 L159.21 964.99 L159.63 964.93 L160.04 964.88 L160.45 964.82 L160.86 964.76 L161.28 964.71 L161.69 964.66 L162.10 964.60 L162.52 964.55 L162.93 964.50 L163.34 964.44 L163.76 964.39 L164.17 964.34 L164.58 964.29 L165.00 964.24 L165.41 964.19 L165.82 964.14 L166.24 964.09 L166.65 964.04 L167.07 963.99 L167.48 963.95 L167.90 963.90 L168.31 963.85 L168.72 963.81 L169.14 963.76 L169.55 963.71 L169.97 963.67 L170.38 963.63 L170.80 963.58 L171.21 963.54 L171.63 963.49 L172.04 963.45 L172.46 963.41 L172.88 963.37 L173.29 963.33 L173.71 963.28 L174.12 963.24 L174.54 963.20 L174.96 963.16 L175.37 963.12 L175.79 963.08 L176.20 963.05 L176.62 963.01 L177.04 962.97 L177.45 962.93 L177.87 962.89 L178.29 962.86 L178.70 962.82 L179.12 962.79 L179.54 962.75 L179.96 962.71 L180.37 962.68 L180.79 962.65 L181.21 962.61 L181.62 962.58 L182.04 962.54 L182.46 962.51 L182.88 962.48 L183.30 962.45 L183.71 962.41 L184.13 962.38 L184.55 962.35 L184.97 962.32 L185.39 962.29 L185.80 962.26 L186.22 962.23 L186.64 962.20 L187.06 962.17 L187.48 962.14 L187.90 962.11 L188.32 962.09 L188.73 962.06 L189.15 962.03 L189.57 962.00 L189.99 961.98 L190.41 961.95 L190.83 961.92 L191.25 961.90 L191.67 961.87 L192.09 961.85 L192.51 961.82 L192.93 961.80 L193.35 961.77 L193.77 961.75 L194.19 961.73 L194.61 961.70 L195.03 961.68 L195.45 961.66 L195.87 961.63 L196.29 961.61 L196.71 961.59 L197.13 961.57 L197.55 961.54 L197.97 961.52 L198.39 961.50 L198.81 961.48 L199.23 961.46 L199.65 961.44 L200.07 961.42 L200.49 961.40 L200.91 961.38 L201.33 961.36 L201.75 961.34 L202.17 961.33 L202.60 961.31 L203.02 961.29 L203.44 961.27 L203.86 961.25 L204.28 961.24 L204.70 961.22 L205.12 961.20 L205.54 961.18 L205.97 961.17 L206.39 961.15 L206.81 961.14 L207.23 961.12 L207.65 961.10 L208.07 961.09 L208.50 961.07 L208.92 961.06 L209.34 961.04 L209.76 961.03 L210.18 961.01 L210.60 961.00 L211.03 960.99 L211.45 960.97 L211.87 960.96 L212.29 960.94 L212.72 960.93 L213.14 960.92 L213.56 960.90 L213.98 960.89 L214.41 960.88 L214.83 960.87 L215.25 960.85 L215.67 960.84 L216.10 960.83 L216.52 960.82 L216.94 960.81 L217.36 960.80 L217.79 960.78 L218.21 960.77 L218.63 960.76 L219.05 960.75 L219.48 960.74 L219.90 960.73 L220.32 960.72 L220.75 960.71 L221.17 960.70 L221.59 960.69 L222.02 960.68 L222.44 960.67 L222.86 960.66 L223.28 960.65 L223.71 960.64 L224.13 960.63 L224.55 960.62 L224.98 960.61 L225.40 960.60 L225.82 960.59 L226.25 960.59 L226.67 960.58 L227.10 960.57 L227.52 960.56 L227.94 960.55 L228.37 960.54 L228.79 960.54 L229.21 960.53 L229.64 960.52 L230.06 960.51 L230.48 960.50 L230.91 960.50 L231.33 960.49 L231.75 960.48 L232.18 960.47 L232.60 960.47 L233.03 960.46 L233.45 960.45 L233.87 960.44 L234.30 960.44 L234.72 960.43 L235.14 960.42 L235.57 960.41 L235.99 960.41 L236.42 960.40 L236.84 960.39 L237.26 960.39 L237.69 960.38 L238.11 960.37 L238.54 960.37 L238.96 960.36 L239.38 960.35 L239.81 960.35 L240.23 960.34 L240.66 960.33 L241.08 960.33 L241.50 960.32 L241.93 960.31 L242.35 960.31 L242.78 960.30 L243.20 960.29 L243.62 960.29 L244.05 960.28 L244.47 960.27 L244.90 960.27 L245.32 960.26 L245.74 960.25 L246.17 960.25 L246.59 960.24 L247.02 960.23 L247.44 960.23 L247.87 960.22 L248.29 960.21 L248.71 960.21 L249.14 960.20 L249.56 960.19 L249.99 960.19 L250.41 960.18 L250.83 960.17 L251.26 960.16 L251.68 960.16 L252.11 960.15 L252.53 960.14 L252.95 960.14 L253.38 960.13 L253.80 960.12 L254.23 960.11 L254.65 960.11 L255.07 960.10 L255.50 960.09 L255.92 960.08 L256.35 960.08 L256.77 960.07 L257.19 960.06 L257.62 960.05 L258.04 960.04 L258.47 960.04 L258.89 960.03 L259.31 960.02 L259.74 960.01 L260.16 960.00 L260.59 959.99 L261.01 959.99 L261.43 959.98 L261.86 959.97 L262.28 959.96 L262.70 959.95 L263.13 959.94 L263.55 959.93 L263.97 959.92 L264.40 959.91 L264.82 959.90 L265.25 959.89 L265.67 959.88 L266.09 959.87 L266.52 959.86 L266.94 959.85 L267.36 959.84 L267.78 959.82 L268.21 959.81 L268.63 959.80 L269.05 959.79 L269.48 959.77 L269.90 959.76 L270.32 959.75 L270.74 959.73 L271.17 959.72 L271.59 959.70 L272.01 959.69 L272.43 959.67 L272.85 959.66 L273.28 959.64 L273.70 959.63 L274.12 959.61 L274.54 959.59 L274.96 959.57 L275.38 959.55 L275.80 959.54 L276.23 959.52 L276.65 959.50 L277.07 959.48 L277.49 959.46 L277.91 959.43 L278.33 959.41 L278.75 959.39 L279.17 959.37 L279.59 959.34 L280.01 959.32 L280.43 959.29 L280.85 959.27 L281.26 959.24 L281.68 959.22 L282.10 959.19 L282.52 959.16 L282.94 959.13 L283.36 959.10 L283.77 959.07 L284.19 959.04 L284.61 959.01 L285.03 958.98 L285.44 958.95 L285.86 958.92 L286.28 958.88 L286.69 958.85 L287.11 958.81 L287.53 958.78 L287.94 958.74 L288.36 958.70 L288.77 958.66 L289.19 958.62 L289.60 958.58 L290.02 958.54 L290.43 958.50 L290.84 958.46 L291.26 958.42 L291.67 958.37 L292.08 958.33 L292.50 958.28 L292.91 958.23 L293.32 958.18 L293.73 958.14 L294.14 958.09 L294.56 958.04 L294.97 957.98 L295.38 957.93 L295.79 957.88 L296.20 957.82 L296.61 957.77 L297.02 957.71 L297.43 957.66 L297.84 957.60 L298.25 957.54 L298.65 957.48 L299.06 957.42 L299.47 957.35 L299.88 957.29 L300.28 957.22 L300.69 957.16 L301.10 957.09 L301.50 957.02 L301.91 956.96 L302.31 956.89 L302.72 956.81 L303.12 956.74 L303.53 956.67 L303.93 956.59 L304.34 956.52 L304.74 956.44 L305.14 956.36 L305.54 956.28 L305.95 956.20 L306.35 956.12 L306.75 956.04 L307.15 955.95 L307.55 955.87 L307.95 955.78 L308.35 955.69 L308.75 955.60 L309.15 955.51 L309.55 955.42 L309.95 955.32 L310.34 955.23 L310.74 955.13 L311.14 955.03 L311.53 954.94 L311.93 954.84 L312.32 954.73 L312.72 954.63 L313.11 954.53 L313.51 954.42 L313.90 954.31 L314.30 954.20 L314.69 954.09 L315.08 953.98 L315.47 953.87 L315.86 953.75 L316.25 953.64 L316.65 953.52 L317.04 953.40 L317.42 953.28 L317.81 953.16 L318.20 953.04 L318.59 952.91 L318.98 952.78 L319.36 952.65 L319.75 952.52 L320.14 952.39 L320.52 952.26 L320.91 952.13 L321.29 951.99 L321.68 951.85 L322.06 951.71 L322.44 951.57 L322.83 951.43 L323.21 951.28 L323.59 951.14 L323.97 950.99 L324.35 950.84 L324.73 950.69 L325.11 950.53 L325.49 950.38 L325.87 950.22 L326.24 950.06 L326.62 949.90 L327.00 949.74 L327.37 949.58 L327.75 949.41 L328.12 949.24 L328.50 949.08 L328.87 948.90 L329.24 948.73 L329.62 948.56 L329.99 948.38 L330.36 948.20 L330.73 948.02 L331.10 947.84 L331.47 947.66 L331.84 947.47 L332.21 947.28 L332.57 947.09 L332.94 946.90 L333.31 946.71 L333.67 946.51 L334.04 946.32 L334.40 946.12 L334.77 945.92 L335.13 945.72 L335.49 945.51 L335.85 945.31 L336.21 945.10 L336.57 944.89 L336.93 944.68 L337.29 944.47 L337.65 944.26 L338.01 944.04 L338.36 943.83 L338.72 943.61 L339.07 943.39 L339.43 943.16 L339.78 942.94 L340.14 942.71 L340.49 942.49 L340.84 942.26 L341.19 942.03 L341.54 941.80 L341.89 941.56 L342.24 941.33 L342.58 941.09 L342.93 940.85 L343.28 940.61 L343.62 940.37 L343.96 940.13 L344.31 939.88 L344.65 939.63 L344.99 939.39 L345.33 939.14 L345.67 938.89 L346.01 938.63 L346.35 938.38 L346.69 938.12 L347.02 937.87 L347.36 937.61 L347.69 937.35 L348.03 937.08 L348.36 936.82 L348.69 936.56 L349.02 936.29 L349.35 936.02 L349.68 935.75 L350.01 935.48 L350.33 935.21 L350.66 934.94 L350.99 934.66 L351.31 934.39 L351.63 934.11 L351.96 933.83 L352.28 933.55 L352.60 933.27 L352.92 932.98 L353.23 932.70 L353.55 932.41 L353.87 932.13 L354.18 931.84 L354.50 931.55 L354.81 931.25 L355.12 930.96 L355.43 930.67 L355.74 930.37 L356.05 930.08 L356.36 929.78 L356.67 929.48 L356.97 929.18 L357.28 928.87 L357.58 928.57 L357.88 928.27 L358.19 927.96 L358.49 927.65 L358.78 927.34 L359.08 927.03 L359.38 926.72 L359.68 926.41 L359.97 926.10 L360.26 925.78 L360.56 925.47 L360.85 925.15 L361.14 924.83 L361.43 924.51 L361.71 924.19 L362.00 923.87 L362.29 923.55 L362.57 923.22 L362.85 922.90 L363.13 922.57 L363.41 922.24 L363.69 921.91 L363.97 921.58 L364.25 921.25 L364.52 920.92 L364.80 920.59 L365.07 920.25 L365.34 919.92 L365.61 919.58 L365.88 919.24 L366.15 918.90 L366.42 918.56 L366.68 918.22 L366.95 917.88 L367.21 917.54 L367.47 917.19 L367.73 916.85 L367.99 916.50 L368.25 916.16 L368.51 915.81 L368.76 915.46 L369.01 915.11 L369.27 914.76 L369.52 914.41 L369.77 914.05 L370.02 913.70 L370.26 913.34 L370.51 912.99 L370.75 912.63 L370.99 912.27 L371.24 911.91 L371.48 911.55 L371.71 911.19 L371.95 910.83 L372.19 910.47 L372.42 910.10 L372.65 909.74 L372.89 909.37 L373.12 909.01 L373.34 908.64 L373.57 908.27 L373.80 907.91 L374.02 907.54 L374.24 907.16 L374.46 906.79 L374.68 906.42 L374.90 906.05 L375.12 905.67 L375.33 905.30 L375.55 904.92" stroke="#e01818" stroke-width="2.4" fill="none"/>
<rect x="66.0" y="807.0" width="310.0" height="229.2" fill="none" stroke="#111" stroke-width="1.60"/>
<path d="M97.0 1036.2 v-4.5 M97.0 807.0 v4.5 M159.0 1036.2 v-4.5 M159.0 807.0 v4.5 M221.0 1036.2 v-4.5 M221.0 807.0 v4.5 M283.0 1036.2 v-4.5 M283.0 807.0 v4.5 M345.0 1036.2 v-4.5 M345.0 807.0 v4.5 M128.0 1036.2 v-2.6 M128.0 807.0 v2.6 M190.0 1036.2 v-2.6 M190.0 807.0 v2.6 M252.0 1036.2 v-2.6 M252.0 807.0 v2.6 M314.0 1036.2 v-2.6 M314.0 807.0 v2.6 M66.0 1036.2 h4.5 M376.0 1036.2 h-4.5 M66.0 959.8 h4.5 M376.0 959.8 h-4.5 M66.0 883.4 h4.5 M376.0 883.4 h-4.5 M66.0 807.0 h4.5 M376.0 807.0 h-4.5 M66.0 998.0 h2.6 M376.0 998.0 h-2.6 M66.0 921.6 h2.6 M376.0 921.6 h-2.6 M66.0 845.2 h2.6 M376.0 845.2 h-2.6 " stroke="#111" stroke-width="1.4" fill="none"/>
<text x="61.5" y="1042.2" font-size="21" class="t" text-anchor="end">0</text>
<text x="61.5" y="965.8" font-size="21" class="t" text-anchor="end">1</text>
<text x="61.5" y="889.4" font-size="21" class="t" text-anchor="end">2</text>
<text x="61.5" y="813.0" font-size="21" class="t" text-anchor="end">3</text>
<text x="97.0" y="1057.8" font-size="21" class="t" text-anchor="middle">80</text>
<text x="159.0" y="1057.8" font-size="21" class="t" text-anchor="middle">90</text>
<text x="221.0" y="1057.8" font-size="21" class="t" text-anchor="middle">100</text>
<text x="283.0" y="1057.8" font-size="21" class="t" text-anchor="middle">110</text>
<text x="345.0" y="1057.8" font-size="21" class="t" text-anchor="middle">120</text>
<text x="127.99" y="1086.87" font-size="24.97" class="t">Frequency (THz)</text>
<text transform="translate(40.04 1013.00) rotate(-90)" font-size="24.12" class="t">Amplitude Ratio</text>
<path d="M227.9 838.7 H284.1" stroke="#0a0a0a" stroke-width="2.6"/>
<path d="M227.9 877.6 H284.1" stroke="#e01818" stroke-width="2.6"/>
<text x="290.19" y="846.97" font-size="23.94" class="t">|</text>
<text x="290.20" y="886.40" font-size="23.83" class="t">|</text>
<text transform="translate(296.91 847.23) scale(1.160 1)" font-size="22.64" class="i">r</text>
<text transform="translate(296.91 886.63) scale(1.160 1)" font-size="22.64" class="i">r</text>
<text transform="translate(305.11 855.42) scale(0.860 1)" font-size="15.88" class="i">yx</text>
<text transform="translate(304.64 895.14) scale(0.860 1)" font-size="16.49" class="i">yy</text>
<text transform="translate(319.40 846.97) scale(1.021 1)" font-size="23.94" class="t">|/|</text>
<text transform="translate(319.41 886.40) scale(1.025 1)" font-size="23.83" class="t">|/|</text>
<text transform="translate(339.51 847.23) scale(1.160 1)" font-size="22.64" class="i">r</text>
<text transform="translate(339.51 886.63) scale(1.160 1)" font-size="22.64" class="i">r</text>
<text transform="translate(348.39 857.00) scale(0.860 1)" font-size="15.09" class="i">xx</text>
<text transform="translate(348.49 895.71) scale(0.899 1)" font-size="13.78" class="i">xy</text>
<text x="362.19" y="846.97" font-size="23.94" class="t">|</text>
<text x="362.20" y="886.40" font-size="23.83" class="t">|</text>
<path d="M98.50 840.30 L99.30 840.24 L100.09 840.17 L100.89 840.11 L101.69 840.05 L102.48 839.98 L103.28 839.92 L104.08 839.86 L104.87 839.80 L105.67 839.74 L106.47 839.68 L107.26 839.62 L108.06 839.56 L108.86 839.50 L109.65 839.45 L110.45 839.40 L111.25 839.35 L112.04 839.30 L112.84 839.25 L113.64 839.21 L114.43 839.17 L115.23 839.13 L116.03 839.10 L116.82 839.07 L117.62 839.04 L118.42 839.01 L119.21 838.99 L120.01 838.97 L120.81 838.95 L121.60 838.94 L122.40 838.93 L123.20 838.93 L123.99 838.93 L124.79 838.93 L125.59 838.94 L126.38 838.95 L127.18 838.96 L127.98 838.98 L128.77 839.01 L129.57 839.03 L130.37 839.07 L131.16 839.10 L131.96 839.14 L132.76 839.19 L133.55 839.24 L134.35 839.29 L135.15 839.35 L135.94 839.41 L136.74 839.48 L137.54 839.55 L138.33 839.63 L139.13 839.71 L139.93 839.79 L140.72 839.88 L141.52 839.98 L142.32 840.08 L143.11 840.18 L143.91 840.29 L144.71 840.40 L145.50 840.51 L146.30 840.63 L147.10 840.76 L147.89 840.88 L148.69 841.02 L149.49 841.15 L150.28 841.29 L151.08 841.44 L151.88 841.58 L152.67 841.74 L153.47 841.89 L154.27 842.05 L155.06 842.21 L155.86 842.38 L156.66 842.54 L157.45 842.71 L158.25 842.89 L159.04 843.07 L159.84 843.25 L160.64 843.43 L161.43 843.61 L162.23 843.80 L163.03 843.99 L163.82 844.18 L164.62 844.37 L165.42 844.57 L166.21 844.77 L167.01 844.96 L167.81 845.16 L168.60 845.36 L169.40 845.57 L170.20 845.77 L170.99 845.97 L171.79 846.17 L172.59 846.38 L173.38 846.58 L174.18 846.78 L174.98 846.98 L175.77 847.19 L176.57 847.39 L177.37 847.59 L178.16 847.78 L178.96 847.98 L179.76 848.18 L180.55 848.37 L181.35 848.56 L182.15 848.75 L182.94 848.93 L183.74 849.12 L184.54 849.30 L185.33 849.47 L186.13 849.64 L186.93 849.81 L187.72 849.97 L188.52 850.13 L189.32 850.29 L190.11 850.43 L190.91 850.58 L191.71 850.71 L192.50 850.84 L193.30 850.97 L194.10 851.09 L194.89 851.20 L195.69 851.30 L196.49 851.39 L197.28 851.48 L198.08 851.56 L198.88 851.63 L199.67 851.69 L200.47 851.74 L201.27 851.78 L202.06 851.82 L202.86 851.84 L203.66 851.85 L204.45 851.85 L205.25 851.83 L206.05 851.81 L206.84 851.77 L207.64 851.72 L208.44 851.66 L209.23 851.58 L210.03 851.49 L210.83 851.38 L211.62 851.26 L212.42 851.13 L213.22 850.97 L214.01 850.81 L214.81 850.62 L215.61 850.42 L216.40 850.20 L217.20 849.97" stroke="#1a1a1a" stroke-width="1.5" fill="none"/>
<path d="M98.50 840.30 L99.30 840.24 L100.09 840.17 L100.89 840.11 L101.69 840.05 L102.48 839.98 L103.28 839.92 L104.08 839.86 L104.87 839.80 L105.67 839.74 L106.47 839.68 L107.26 839.62 L108.06 839.56 L108.86 839.50 L109.65 839.45 L110.45 839.40 L111.25 839.35 L112.04 839.30 L112.84 839.25 L113.64 839.21 L114.43 839.17 L115.23 839.13 L116.03 839.10 L116.82 839.07 L117.62 839.04 L118.42 839.01 L119.21 838.99 L120.01 838.97 L120.81 838.95 L121.60 838.94 L122.40 838.93 L123.20 838.93 L123.99 838.93 L124.79 838.93 L125.59 838.94 L126.38 838.95 L127.18 838.96 L127.98 838.98 L128.77 839.01 L129.57 839.03 L130.37 839.07 L131.16 839.10 L131.96 839.14 L132.76 839.19 L133.55 839.24 L134.35 839.29 L135.15 839.35 L135.94 839.41 L136.74 839.48 L137.54 839.55 L138.33 839.63 L139.13 839.71 L139.93 839.79 L140.72 839.88 L141.52 839.98 L142.32 840.08 L143.11 840.18 L143.91 840.29 L144.71 840.40 L145.50 840.51 L146.30 840.63 L147.10 840.76 L147.89 840.88 L148.69 841.02 L149.49 841.15 L150.28 841.29 L151.08 841.44 L151.88 841.58 L152.67 841.74 L153.47 841.89 L154.27 842.05 L155.06 842.21 L155.86 842.38 L156.66 842.54 L157.45 842.71 L158.25 842.89 L159.04 843.07 L159.84 843.25 L160.64 843.43 L161.43 843.61 L162.23 843.80 L163.03 843.99 L163.82 844.18 L164.62 844.37 L165.42 844.57 L166.21 844.77 L167.01 844.96 L167.81 845.16 L168.60 845.36 L169.40 845.57 L170.20 845.77 L170.99 845.97 L171.79 846.17 L172.59 846.38 L173.38 846.58 L174.18 846.78 L174.98 846.98 L175.77 847.19 L176.57 847.39 L177.37 847.59 L178.16 847.78 L178.96 847.98 L179.76 848.18 L180.55 848.37 L181.35 848.56 L182.15 848.75 L182.94 848.93 L183.74 849.12 L184.54 849.30 L185.33 849.47 L186.13 849.64 L186.93 849.81 L187.72 849.97 L188.52 850.13 L189.32 850.29 L190.11 850.43 L190.91 850.58 L191.71 850.71 L192.50 850.84 L193.30 850.97 L194.10 851.09 L194.89 851.20 L195.69 851.30 L196.49 851.39 L197.28 851.48 L198.08 851.56 L198.88 851.63 L199.67 851.69 L200.47 851.74 L201.27 851.78 L202.06 851.82 L202.86 851.84 L203.66 851.85 L204.45 851.85 L205.25 851.83 L206.05 851.81 L206.84 851.77 L207.64 851.72 L208.44 851.66 L209.23 851.58 L210.03 851.49 L210.83 851.38 L211.62 851.26 L212.42 851.13 L213.22 850.97 L214.01 850.81 L214.81 850.62 L215.61 850.42 L216.40 850.20 L217.20 849.97" stroke="#e8506a" stroke-width="1.3" stroke-dasharray="3 2.5" fill="none" opacity="0.85"/>
<rect x="98.5" y="815.2" width="118.7" height="87.1" fill="none" stroke="#8a8a8a" stroke-width="0.9"/>
<path d="M110.4 902.4 v-2.4 M110.4 815.2 v2.4 M134.1 902.4 v-2.4 M134.1 815.2 v2.4 M157.8 902.4 v-2.4 M157.8 815.2 v2.4 M181.6 902.4 v-2.4 M181.6 815.2 v2.4 M205.3 902.4 v-2.4 M205.3 815.2 v2.4 M122.2 902.4 v-1.4 M122.2 815.2 v1.4 M146.0 902.4 v-1.4 M146.0 815.2 v1.4 M169.7 902.4 v-1.4 M169.7 815.2 v1.4 M193.5 902.4 v-1.4 M193.5 815.2 v1.4 M98.5 873.3 h2.4 M217.2 873.3 h-2.4 M98.5 844.2 h2.4 M217.2 844.2 h-2.4 M98.5 887.8 h1.4 M217.2 887.8 h-1.4 M98.5 858.8 h1.4 M217.2 858.8 h-1.4 M98.5 829.7 h1.4 M217.2 829.7 h-1.4 " stroke="#8a8a8a" stroke-width="0.8" fill="none"/>
<text x="96.3" y="906.0" font-size="10.2" class="t" style="fill:#333" text-anchor="end">0.7</text>
<text x="96.3" y="876.9" font-size="10.2" class="t" style="fill:#333" text-anchor="end">0.8</text>
<text x="96.3" y="847.9" font-size="10.2" class="t" style="fill:#333" text-anchor="end">0.9</text>
<text x="96.3" y="818.8" font-size="10.2" class="t" style="fill:#333" text-anchor="end">1.0</text>
<text x="110.4" y="912.3" font-size="10.2" class="t" style="fill:#333" text-anchor="middle">80</text>
<text x="134.1" y="912.3" font-size="10.2" class="t" style="fill:#333" text-anchor="middle">90</text>
<text x="157.8" y="912.3" font-size="10.2" class="t" style="fill:#333" text-anchor="middle">100</text>
<text x="181.6" y="912.3" font-size="10.2" class="t" style="fill:#333" text-anchor="middle">110</text>
<text x="205.3" y="912.3" font-size="10.2" class="t" style="fill:#333" text-anchor="middle">120</text>
<text x="113.24" y="923.95" font-size="11.93" class="t" style="fill:#333">Frequency (THz)</text>
<text transform="translate(80.48 892.36) rotate(-90)" font-size="11.96" class="t" style="fill:#333">Reflectance</text>
<path d="M167 863.2 H192.5" stroke="#1a1a1a" stroke-width="1.3"/>
<path d="M166.5 881.8 H192" stroke="#e8506a" stroke-width="1.3" stroke-dasharray="4 5.7"/>
<text transform="translate(196.11 867.62) scale(0.860 1)" font-size="11.76" class="i" style="fill:#2a2a2a">R</text>
<text transform="translate(204.29 872.00) scale(1.082 1)" font-size="6.60" class="i" font-weight="bold" style="fill:#2a2a2a">x</text>
<text transform="translate(196.20 885.61) scale(0.893 1)" font-size="11.03" class="i" style="fill:#2a2a2a">R</text>
<text transform="translate(204.29 890.94) scale(0.961 1)" font-size="7.43" class="i" font-weight="bold" style="fill:#2a2a2a">y</text><text x="398.81" y="808.49" font-size="29.57" class="t">(e)</text>
<rect x="551.6" y="805.9" width="185.9" height="229.1" fill="#d9d9d9"/>
<path d="M477.3 862.6 L787.0 861.2" stroke="#e01818" stroke-width="2.4" fill="none"/>
<path d="M477.3 978.0 L650 978.0 L787.0 979.0" stroke="#0a0a0a" stroke-width="2.3" fill="none"/>
<rect x="477.3" y="805.9" width="309.7" height="229.1" fill="none" stroke="#111" stroke-width="1.60"/>
<path d="M508.3 1035.0 v-4.5 M508.3 805.9 v4.5 M570.2 1035.0 v-4.5 M570.2 805.9 v4.5 M632.2 1035.0 v-4.5 M632.2 805.9 v4.5 M694.1 1035.0 v-4.5 M694.1 805.9 v4.5 M756.1 1035.0 v-4.5 M756.1 805.9 v4.5 M539.2 1035.0 v-2.6 M539.2 805.9 v2.6 M601.2 1035.0 v-2.6 M601.2 805.9 v2.6 M663.2 1035.0 v-2.6 M663.2 805.9 v2.6 M725.1 1035.0 v-2.6 M725.1 805.9 v2.6 M477.3 1035.0 h4.5 M787.0 1035.0 h-4.5 M477.3 977.7 h4.5 M787.0 977.7 h-4.5 M477.3 920.5 h4.5 M787.0 920.5 h-4.5 M477.3 863.2 h4.5 M787.0 863.2 h-4.5 M477.3 805.9 h4.5 M787.0 805.9 h-4.5 M477.3 1006.4 h2.6 M787.0 1006.4 h-2.6 M477.3 949.1 h2.6 M787.0 949.1 h-2.6 M477.3 891.8 h2.6 M787.0 891.8 h-2.6 M477.3 834.5 h2.6 M787.0 834.5 h-2.6 " stroke="#111" stroke-width="1.4" fill="none"/>
<text x="473" y="1040.8" font-size="21" class="t" text-anchor="end">-180</text>
<text x="473" y="983.5" font-size="21" class="t" text-anchor="end">-90</text>
<text x="473" y="926.2" font-size="21" class="t" text-anchor="end">0</text>
<text x="473" y="869.0" font-size="21" class="t" text-anchor="end">90</text>
<text x="473" y="811.7" font-size="21" class="t" text-anchor="end">180</text>
<text x="508.3" y="1056.5" font-size="21" class="t" text-anchor="middle">80</text>
<text x="570.2" y="1056.5" font-size="21" class="t" text-anchor="middle">90</text>
<text x="632.2" y="1056.5" font-size="21" class="t" text-anchor="middle">100</text>
<text x="694.1" y="1056.5" font-size="21" class="t" text-anchor="middle">110</text>
<text x="756.1" y="1056.5" font-size="21" class="t" text-anchor="middle">120</text>
<text x="538.50" y="1086.47" font-size="24.90" class="t">Frequency (THz)</text>
<text transform="translate(434.45 1012.98) rotate(-90)" font-size="24.78" class="t">Phase Difference</text>
<path d="M650 894 H707" stroke="#0a0a0a" stroke-width="2.4"/>
<path d="M650 933.4 H707" stroke="#e01818" stroke-width="2.4"/>
<text transform="translate(712.47 902.50) scale(1.033 1)" font-size="25.00" class="t">Δ</text>
<text transform="translate(729.89 902.36) scale(1.049 1)" font-size="24.00" class="i">φ</text>
<text transform="translate(746.12 912.60) scale(0.946 1)" font-size="16.23" class="i">x</text>
<text transform="translate(712.47 941.10) scale(1.057 1)" font-size="24.42" class="t">Δ</text>
<text transform="translate(729.89 941.36) scale(1.049 1)" font-size="24.00" class="i">φ</text>
<text transform="translate(745.85 951.59) scale(0.925 1)" font-size="16.22" class="i">y</text>
</svg></body></html>
